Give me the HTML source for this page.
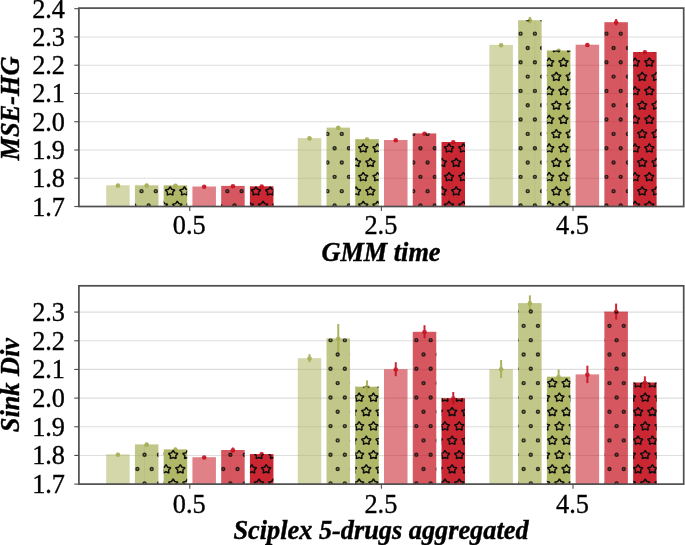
<!DOCTYPE html>
<html lang="en"><head><meta charset="utf-8"><title>Chart</title><style>html,body{margin:0;padding:0;background:#fff}</style></head><body>
<svg width="685" height="545" viewBox="0 0 685 545" style="display:block;font-family:'Liberation Serif','Times New Roman',serif">
<rect width="685" height="545" fill="#fff"/>
<g stroke="#dedede" stroke-width="1.1"><line x1="78.9" x2="683.7" y1="178.24" y2="178.24"/><line x1="78.9" x2="683.7" y1="149.99" y2="149.99"/><line x1="78.9" x2="683.7" y1="121.73" y2="121.73"/><line x1="78.9" x2="683.7" y1="93.47" y2="93.47"/><line x1="78.9" x2="683.7" y1="65.21" y2="65.21"/><line x1="78.9" x2="683.7" y1="36.96" y2="36.96"/></g>
<line x1="117.93" x2="117.93" y1="184.80" y2="185.80" stroke="#abb35e" stroke-width="2"/>
<circle cx="117.93" cy="185.60" r="2.3" fill="#abb35e"/>
<rect x="106.18" y="185.30" width="23.50" height="21.20" fill="#a7af55" fill-opacity="0.50"/>
<line x1="146.68" x2="146.68" y1="184.80" y2="185.80" stroke="#abb35e" stroke-width="2"/>
<circle cx="146.68" cy="185.60" r="2.3" fill="#abb35e"/>
<rect x="134.93" y="185.30" width="23.50" height="21.20" fill="#a7af55" fill-opacity="0.70"/>
<clipPath id="c1"><rect x="134.93" y="185.30" width="23.50" height="21.20"/></clipPath>
<g clip-path="url(#c1)" fill="#000" fill-opacity=".3" stroke="#151510" stroke-opacity=".85" stroke-width="1.4"><circle cx="120.04" cy="176.84" r="1.5"/><circle cx="134.34" cy="176.84" r="1.5"/><circle cx="148.65" cy="176.84" r="1.5"/><circle cx="162.95" cy="176.84" r="1.5"/><circle cx="177.26" cy="176.84" r="1.5"/><circle cx="112.89" cy="191.16" r="1.5"/><circle cx="127.19" cy="191.16" r="1.5"/><circle cx="141.50" cy="191.16" r="1.5"/><circle cx="155.80" cy="191.16" r="1.5"/><circle cx="170.11" cy="191.16" r="1.5"/><circle cx="120.04" cy="205.48" r="1.5"/><circle cx="134.34" cy="205.48" r="1.5"/><circle cx="148.65" cy="205.48" r="1.5"/><circle cx="162.95" cy="205.48" r="1.5"/><circle cx="177.26" cy="205.48" r="1.5"/><circle cx="112.89" cy="219.80" r="1.5"/><circle cx="127.19" cy="219.80" r="1.5"/><circle cx="141.50" cy="219.80" r="1.5"/><circle cx="155.80" cy="219.80" r="1.5"/><circle cx="170.11" cy="219.80" r="1.5"/></g>
<line x1="175.43" x2="175.43" y1="184.90" y2="185.90" stroke="#abb35e" stroke-width="2"/>
<circle cx="175.43" cy="185.70" r="2.3" fill="#abb35e"/>
<rect x="163.68" y="185.40" width="23.50" height="21.10" fill="#a7af55" fill-opacity="0.90"/>
<clipPath id="c2"><rect x="163.68" y="185.40" width="23.50" height="21.10"/></clipPath>
<g clip-path="url(#c2)" fill="none" stroke="#0d0d0d" stroke-linejoin="bevel" stroke-width="1.45"><polygon points="148.65,172.38 150.25,174.98 153.40,175.60 151.25,177.83 151.59,180.81 148.65,179.58 145.71,180.81 146.05,177.83 143.90,175.60 147.05,174.98"/><polygon points="162.95,172.38 164.56,174.98 167.71,175.60 165.55,177.83 165.89,180.81 162.95,179.58 160.02,180.81 160.36,177.83 158.20,175.60 161.35,174.98"/><polygon points="177.26,172.38 178.86,174.98 182.01,175.60 179.86,177.83 180.20,180.81 177.26,179.58 174.32,180.81 174.66,177.83 172.51,175.60 175.66,174.98"/><polygon points="191.56,172.38 193.17,174.98 196.32,175.60 194.16,177.83 194.50,180.81 191.56,179.58 188.63,180.81 188.97,177.83 186.81,175.60 189.96,174.98"/><polygon points="205.87,172.38 207.47,174.98 210.62,175.60 208.47,177.83 208.81,180.81 205.87,179.58 202.93,180.81 203.27,177.83 201.12,175.60 204.27,174.98"/><polygon points="141.50,186.70 143.10,189.30 146.25,189.92 144.09,192.15 144.43,195.13 141.50,193.90 138.56,195.13 138.90,192.15 136.75,189.92 139.89,189.30"/><polygon points="155.80,186.70 157.41,189.30 160.55,189.92 158.40,192.15 158.74,195.13 155.80,193.90 152.87,195.13 153.21,192.15 151.05,189.92 154.20,189.30"/><polygon points="170.11,186.70 171.71,189.30 174.86,189.92 172.70,192.15 173.04,195.13 170.11,193.90 167.17,195.13 167.51,192.15 165.36,189.92 168.50,189.30"/><polygon points="184.41,186.70 186.02,189.30 189.16,189.92 187.01,192.15 187.35,195.13 184.41,193.90 181.48,195.13 181.82,192.15 179.66,189.92 182.81,189.30"/><polygon points="198.72,186.70 200.32,189.30 203.47,189.92 201.31,192.15 201.65,195.13 198.72,193.90 195.78,195.13 196.12,192.15 193.97,189.92 197.11,189.30"/><polygon points="148.65,201.02 150.25,203.62 153.40,204.24 151.25,206.47 151.59,209.45 148.65,208.22 145.71,209.45 146.05,206.47 143.90,204.24 147.05,203.62"/><polygon points="162.95,201.02 164.56,203.62 167.71,204.24 165.55,206.47 165.89,209.45 162.95,208.22 160.02,209.45 160.36,206.47 158.20,204.24 161.35,203.62"/><polygon points="177.26,201.02 178.86,203.62 182.01,204.24 179.86,206.47 180.20,209.45 177.26,208.22 174.32,209.45 174.66,206.47 172.51,204.24 175.66,203.62"/><polygon points="191.56,201.02 193.17,203.62 196.32,204.24 194.16,206.47 194.50,209.45 191.56,208.22 188.63,209.45 188.97,206.47 186.81,204.24 189.96,203.62"/><polygon points="205.87,201.02 207.47,203.62 210.62,204.24 208.47,206.47 208.81,209.45 205.87,208.22 202.93,209.45 203.27,206.47 201.12,204.24 204.27,203.62"/><polygon points="141.50,215.34 143.10,217.94 146.25,218.56 144.09,220.79 144.43,223.77 141.50,222.54 138.56,223.77 138.90,220.79 136.75,218.56 139.89,217.94"/><polygon points="155.80,215.34 157.41,217.94 160.55,218.56 158.40,220.79 158.74,223.77 155.80,222.54 152.87,223.77 153.21,220.79 151.05,218.56 154.20,217.94"/><polygon points="170.11,215.34 171.71,217.94 174.86,218.56 172.70,220.79 173.04,223.77 170.11,222.54 167.17,223.77 167.51,220.79 165.36,218.56 168.50,217.94"/><polygon points="184.41,215.34 186.02,217.94 189.16,218.56 187.01,220.79 187.35,223.77 184.41,222.54 181.48,223.77 181.82,220.79 179.66,218.56 182.81,217.94"/><polygon points="198.72,215.34 200.32,217.94 203.47,218.56 201.31,220.79 201.65,223.77 198.72,222.54 195.78,223.77 196.12,220.79 193.97,218.56 197.11,217.94"/></g>
<line x1="204.18" x2="204.18" y1="186.00" y2="187.00" stroke="#cb2633" stroke-width="2"/>
<circle cx="204.18" cy="186.80" r="2.3" fill="#cb2633"/>
<rect x="192.43" y="186.50" width="23.50" height="20.00" fill="#c40f1c" fill-opacity="0.53"/>
<line x1="232.93" x2="232.93" y1="185.40" y2="186.40" stroke="#cb2633" stroke-width="2"/>
<circle cx="232.93" cy="186.20" r="2.3" fill="#cb2633"/>
<rect x="221.18" y="185.90" width="23.50" height="20.60" fill="#c40f1c" fill-opacity="0.70"/>
<clipPath id="c3"><rect x="221.18" y="185.90" width="23.50" height="20.60"/></clipPath>
<g clip-path="url(#c3)" fill="#000" fill-opacity=".3" stroke="#151510" stroke-opacity=".85" stroke-width="1.4"><circle cx="205.87" cy="176.84" r="1.5"/><circle cx="220.17" cy="176.84" r="1.5"/><circle cx="234.48" cy="176.84" r="1.5"/><circle cx="248.78" cy="176.84" r="1.5"/><circle cx="263.09" cy="176.84" r="1.5"/><circle cx="213.02" cy="191.16" r="1.5"/><circle cx="227.33" cy="191.16" r="1.5"/><circle cx="241.63" cy="191.16" r="1.5"/><circle cx="255.94" cy="191.16" r="1.5"/><circle cx="205.87" cy="205.48" r="1.5"/><circle cx="220.17" cy="205.48" r="1.5"/><circle cx="234.48" cy="205.48" r="1.5"/><circle cx="248.78" cy="205.48" r="1.5"/><circle cx="263.09" cy="205.48" r="1.5"/><circle cx="213.02" cy="219.80" r="1.5"/><circle cx="227.33" cy="219.80" r="1.5"/><circle cx="241.63" cy="219.80" r="1.5"/><circle cx="255.94" cy="219.80" r="1.5"/></g>
<line x1="261.68" x2="261.68" y1="185.80" y2="186.80" stroke="#cb2633" stroke-width="2"/>
<circle cx="261.68" cy="186.60" r="2.3" fill="#cb2633"/>
<rect x="249.93" y="186.30" width="23.50" height="20.20" fill="#c40f1c" fill-opacity="0.90"/>
<clipPath id="c4"><rect x="249.93" y="186.30" width="23.50" height="20.20"/></clipPath>
<g clip-path="url(#c4)" fill="none" stroke="#0d0d0d" stroke-linejoin="bevel" stroke-width="1.45"><polygon points="234.48,172.38 236.08,174.98 239.23,175.60 237.08,177.83 237.42,180.81 234.48,179.58 231.54,180.81 231.88,177.83 229.73,175.60 232.88,174.98"/><polygon points="248.78,172.38 250.39,174.98 253.54,175.60 251.38,177.83 251.72,180.81 248.78,179.58 245.85,180.81 246.19,177.83 244.03,175.60 247.18,174.98"/><polygon points="263.09,172.38 264.69,174.98 267.84,175.60 265.69,177.83 266.03,180.81 263.09,179.58 260.15,180.81 260.49,177.83 258.34,175.60 261.49,174.98"/><polygon points="277.40,172.38 279.00,174.98 282.15,175.60 279.99,177.83 280.33,180.81 277.40,179.58 274.46,180.81 274.80,177.83 272.64,175.60 275.79,174.98"/><polygon points="291.70,172.38 293.30,174.98 296.45,175.60 294.30,177.83 294.64,180.81 291.70,179.58 288.76,180.81 289.10,177.83 286.95,175.60 290.10,174.98"/><polygon points="241.63,186.70 243.24,189.30 246.38,189.92 244.23,192.15 244.57,195.13 241.63,193.90 238.70,195.13 239.04,192.15 236.88,189.92 240.03,189.30"/><polygon points="255.94,186.70 257.54,189.30 260.69,189.92 258.53,192.15 258.87,195.13 255.94,193.90 253.00,195.13 253.34,192.15 251.19,189.92 254.33,189.30"/><polygon points="270.24,186.70 271.85,189.30 274.99,189.92 272.84,192.15 273.18,195.13 270.24,193.90 267.31,195.13 267.65,192.15 265.49,189.92 268.64,189.30"/><polygon points="284.55,186.70 286.15,189.30 289.30,189.92 287.14,192.15 287.48,195.13 284.55,193.90 281.61,195.13 281.95,192.15 279.80,189.92 282.94,189.30"/><polygon points="234.48,201.02 236.08,203.62 239.23,204.24 237.08,206.47 237.42,209.45 234.48,208.22 231.54,209.45 231.88,206.47 229.73,204.24 232.88,203.62"/><polygon points="248.78,201.02 250.39,203.62 253.54,204.24 251.38,206.47 251.72,209.45 248.78,208.22 245.85,209.45 246.19,206.47 244.03,204.24 247.18,203.62"/><polygon points="263.09,201.02 264.69,203.62 267.84,204.24 265.69,206.47 266.03,209.45 263.09,208.22 260.15,209.45 260.49,206.47 258.34,204.24 261.49,203.62"/><polygon points="277.40,201.02 279.00,203.62 282.15,204.24 279.99,206.47 280.33,209.45 277.40,208.22 274.46,209.45 274.80,206.47 272.64,204.24 275.79,203.62"/><polygon points="291.70,201.02 293.30,203.62 296.45,204.24 294.30,206.47 294.64,209.45 291.70,208.22 288.76,209.45 289.10,206.47 286.95,204.24 290.10,203.62"/><polygon points="241.63,215.34 243.24,217.94 246.38,218.56 244.23,220.79 244.57,223.77 241.63,222.54 238.70,223.77 239.04,220.79 236.88,218.56 240.03,217.94"/><polygon points="255.94,215.34 257.54,217.94 260.69,218.56 258.53,220.79 258.87,223.77 255.94,222.54 253.00,223.77 253.34,220.79 251.19,218.56 254.33,217.94"/><polygon points="270.24,215.34 271.85,217.94 274.99,218.56 272.84,220.79 273.18,223.77 270.24,222.54 267.31,223.77 267.65,220.79 265.49,218.56 268.64,217.94"/><polygon points="284.55,215.34 286.15,217.94 289.30,218.56 287.14,220.79 287.48,223.77 284.55,222.54 281.61,223.77 281.95,220.79 279.80,218.56 282.94,217.94"/></g>
<line x1="309.52" x2="309.52" y1="137.30" y2="138.90" stroke="#abb35e" stroke-width="2"/>
<circle cx="309.52" cy="138.40" r="2.3" fill="#abb35e"/>
<rect x="297.77" y="138.10" width="23.50" height="68.40" fill="#a7af55" fill-opacity="0.50"/>
<line x1="338.27" x2="338.27" y1="126.60" y2="128.60" stroke="#abb35e" stroke-width="2"/>
<circle cx="338.27" cy="127.90" r="2.3" fill="#abb35e"/>
<rect x="326.52" y="127.60" width="23.50" height="78.90" fill="#a7af55" fill-opacity="0.70"/>
<clipPath id="c5"><rect x="326.52" y="127.60" width="23.50" height="78.90"/></clipPath>
<g clip-path="url(#c5)" fill="#000" fill-opacity=".3" stroke="#151510" stroke-opacity=".85" stroke-width="1.4"><circle cx="306.00" cy="119.56" r="1.5"/><circle cx="320.31" cy="119.56" r="1.5"/><circle cx="334.62" cy="119.56" r="1.5"/><circle cx="348.92" cy="119.56" r="1.5"/><circle cx="363.23" cy="119.56" r="1.5"/><circle cx="313.16" cy="133.88" r="1.5"/><circle cx="327.46" cy="133.88" r="1.5"/><circle cx="341.77" cy="133.88" r="1.5"/><circle cx="356.07" cy="133.88" r="1.5"/><circle cx="370.38" cy="133.88" r="1.5"/><circle cx="306.00" cy="148.20" r="1.5"/><circle cx="320.31" cy="148.20" r="1.5"/><circle cx="334.62" cy="148.20" r="1.5"/><circle cx="348.92" cy="148.20" r="1.5"/><circle cx="363.23" cy="148.20" r="1.5"/><circle cx="313.16" cy="162.52" r="1.5"/><circle cx="327.46" cy="162.52" r="1.5"/><circle cx="341.77" cy="162.52" r="1.5"/><circle cx="356.07" cy="162.52" r="1.5"/><circle cx="370.38" cy="162.52" r="1.5"/><circle cx="306.00" cy="176.84" r="1.5"/><circle cx="320.31" cy="176.84" r="1.5"/><circle cx="334.62" cy="176.84" r="1.5"/><circle cx="348.92" cy="176.84" r="1.5"/><circle cx="363.23" cy="176.84" r="1.5"/><circle cx="313.16" cy="191.16" r="1.5"/><circle cx="327.46" cy="191.16" r="1.5"/><circle cx="341.77" cy="191.16" r="1.5"/><circle cx="356.07" cy="191.16" r="1.5"/><circle cx="370.38" cy="191.16" r="1.5"/><circle cx="306.00" cy="205.48" r="1.5"/><circle cx="320.31" cy="205.48" r="1.5"/><circle cx="334.62" cy="205.48" r="1.5"/><circle cx="348.92" cy="205.48" r="1.5"/><circle cx="363.23" cy="205.48" r="1.5"/><circle cx="313.16" cy="219.80" r="1.5"/><circle cx="327.46" cy="219.80" r="1.5"/><circle cx="341.77" cy="219.80" r="1.5"/><circle cx="356.07" cy="219.80" r="1.5"/><circle cx="370.38" cy="219.80" r="1.5"/></g>
<line x1="367.02" x2="367.02" y1="138.40" y2="140.00" stroke="#abb35e" stroke-width="2"/>
<circle cx="367.02" cy="139.50" r="2.3" fill="#abb35e"/>
<rect x="355.27" y="139.20" width="23.50" height="67.30" fill="#a7af55" fill-opacity="0.90"/>
<clipPath id="c6"><rect x="355.27" y="139.20" width="23.50" height="67.30"/></clipPath>
<g clip-path="url(#c6)" fill="none" stroke="#0d0d0d" stroke-linejoin="bevel" stroke-width="1.45"><polygon points="334.62,115.10 336.22,117.70 339.37,118.32 337.21,120.55 337.55,123.53 334.62,122.30 331.68,123.53 332.02,120.55 329.86,118.32 333.01,117.70"/><polygon points="348.92,115.10 350.52,117.70 353.67,118.32 351.52,120.55 351.86,123.53 348.92,122.30 345.98,123.53 346.32,120.55 344.17,118.32 347.32,117.70"/><polygon points="363.23,115.10 364.83,117.70 367.98,118.32 365.82,120.55 366.16,123.53 363.23,122.30 360.29,123.53 360.63,120.55 358.47,118.32 361.62,117.70"/><polygon points="377.53,115.10 379.13,117.70 382.28,118.32 380.13,120.55 380.47,123.53 377.53,122.30 374.59,123.53 374.93,120.55 372.78,118.32 375.93,117.70"/><polygon points="391.84,115.10 393.44,117.70 396.59,118.32 394.43,120.55 394.77,123.53 391.84,122.30 388.90,123.53 389.24,120.55 387.08,118.32 390.23,117.70"/><polygon points="341.77,129.42 343.37,132.02 346.52,132.64 344.36,134.87 344.70,137.85 341.77,136.62 338.83,137.85 339.17,134.87 337.02,132.64 340.16,132.02"/><polygon points="356.07,129.42 357.68,132.02 360.82,132.64 358.67,134.87 359.01,137.85 356.07,136.62 353.14,137.85 353.48,134.87 351.32,132.64 354.47,132.02"/><polygon points="370.38,129.42 371.98,132.02 375.13,132.64 372.97,134.87 373.31,137.85 370.38,136.62 367.44,137.85 367.78,134.87 365.63,132.64 368.77,132.02"/><polygon points="384.68,129.42 386.29,132.02 389.43,132.64 387.28,134.87 387.62,137.85 384.68,136.62 381.75,137.85 382.09,134.87 379.93,132.64 383.08,132.02"/><polygon points="398.99,129.42 400.59,132.02 403.74,132.64 401.58,134.87 401.92,137.85 398.99,136.62 396.05,137.85 396.39,134.87 394.24,132.64 397.38,132.02"/><polygon points="334.62,143.74 336.22,146.34 339.37,146.96 337.21,149.19 337.55,152.17 334.62,150.94 331.68,152.17 332.02,149.19 329.86,146.96 333.01,146.34"/><polygon points="348.92,143.74 350.52,146.34 353.67,146.96 351.52,149.19 351.86,152.17 348.92,150.94 345.98,152.17 346.32,149.19 344.17,146.96 347.32,146.34"/><polygon points="363.23,143.74 364.83,146.34 367.98,146.96 365.82,149.19 366.16,152.17 363.23,150.94 360.29,152.17 360.63,149.19 358.47,146.96 361.62,146.34"/><polygon points="377.53,143.74 379.13,146.34 382.28,146.96 380.13,149.19 380.47,152.17 377.53,150.94 374.59,152.17 374.93,149.19 372.78,146.96 375.93,146.34"/><polygon points="391.84,143.74 393.44,146.34 396.59,146.96 394.43,149.19 394.77,152.17 391.84,150.94 388.90,152.17 389.24,149.19 387.08,146.96 390.23,146.34"/><polygon points="341.77,158.06 343.37,160.66 346.52,161.28 344.36,163.51 344.70,166.49 341.77,165.26 338.83,166.49 339.17,163.51 337.02,161.28 340.16,160.66"/><polygon points="356.07,158.06 357.68,160.66 360.82,161.28 358.67,163.51 359.01,166.49 356.07,165.26 353.14,166.49 353.48,163.51 351.32,161.28 354.47,160.66"/><polygon points="370.38,158.06 371.98,160.66 375.13,161.28 372.97,163.51 373.31,166.49 370.38,165.26 367.44,166.49 367.78,163.51 365.63,161.28 368.77,160.66"/><polygon points="384.68,158.06 386.29,160.66 389.43,161.28 387.28,163.51 387.62,166.49 384.68,165.26 381.75,166.49 382.09,163.51 379.93,161.28 383.08,160.66"/><polygon points="398.99,158.06 400.59,160.66 403.74,161.28 401.58,163.51 401.92,166.49 398.99,165.26 396.05,166.49 396.39,163.51 394.24,161.28 397.38,160.66"/><polygon points="334.62,172.38 336.22,174.98 339.37,175.60 337.21,177.83 337.55,180.81 334.62,179.58 331.68,180.81 332.02,177.83 329.86,175.60 333.01,174.98"/><polygon points="348.92,172.38 350.52,174.98 353.67,175.60 351.52,177.83 351.86,180.81 348.92,179.58 345.98,180.81 346.32,177.83 344.17,175.60 347.32,174.98"/><polygon points="363.23,172.38 364.83,174.98 367.98,175.60 365.82,177.83 366.16,180.81 363.23,179.58 360.29,180.81 360.63,177.83 358.47,175.60 361.62,174.98"/><polygon points="377.53,172.38 379.13,174.98 382.28,175.60 380.13,177.83 380.47,180.81 377.53,179.58 374.59,180.81 374.93,177.83 372.78,175.60 375.93,174.98"/><polygon points="391.84,172.38 393.44,174.98 396.59,175.60 394.43,177.83 394.77,180.81 391.84,179.58 388.90,180.81 389.24,177.83 387.08,175.60 390.23,174.98"/><polygon points="341.77,186.70 343.37,189.30 346.52,189.92 344.36,192.15 344.70,195.13 341.77,193.90 338.83,195.13 339.17,192.15 337.02,189.92 340.16,189.30"/><polygon points="356.07,186.70 357.68,189.30 360.82,189.92 358.67,192.15 359.01,195.13 356.07,193.90 353.14,195.13 353.48,192.15 351.32,189.92 354.47,189.30"/><polygon points="370.38,186.70 371.98,189.30 375.13,189.92 372.97,192.15 373.31,195.13 370.38,193.90 367.44,195.13 367.78,192.15 365.63,189.92 368.77,189.30"/><polygon points="384.68,186.70 386.29,189.30 389.43,189.92 387.28,192.15 387.62,195.13 384.68,193.90 381.75,195.13 382.09,192.15 379.93,189.92 383.08,189.30"/><polygon points="398.99,186.70 400.59,189.30 403.74,189.92 401.58,192.15 401.92,195.13 398.99,193.90 396.05,195.13 396.39,192.15 394.24,189.92 397.38,189.30"/><polygon points="334.62,201.02 336.22,203.62 339.37,204.24 337.21,206.47 337.55,209.45 334.62,208.22 331.68,209.45 332.02,206.47 329.86,204.24 333.01,203.62"/><polygon points="348.92,201.02 350.52,203.62 353.67,204.24 351.52,206.47 351.86,209.45 348.92,208.22 345.98,209.45 346.32,206.47 344.17,204.24 347.32,203.62"/><polygon points="363.23,201.02 364.83,203.62 367.98,204.24 365.82,206.47 366.16,209.45 363.23,208.22 360.29,209.45 360.63,206.47 358.47,204.24 361.62,203.62"/><polygon points="377.53,201.02 379.13,203.62 382.28,204.24 380.13,206.47 380.47,209.45 377.53,208.22 374.59,209.45 374.93,206.47 372.78,204.24 375.93,203.62"/><polygon points="391.84,201.02 393.44,203.62 396.59,204.24 394.43,206.47 394.77,209.45 391.84,208.22 388.90,209.45 389.24,206.47 387.08,204.24 390.23,203.62"/><polygon points="341.77,215.34 343.37,217.94 346.52,218.56 344.36,220.79 344.70,223.77 341.77,222.54 338.83,223.77 339.17,220.79 337.02,218.56 340.16,217.94"/><polygon points="356.07,215.34 357.68,217.94 360.82,218.56 358.67,220.79 359.01,223.77 356.07,222.54 353.14,223.77 353.48,220.79 351.32,218.56 354.47,217.94"/><polygon points="370.38,215.34 371.98,217.94 375.13,218.56 372.97,220.79 373.31,223.77 370.38,222.54 367.44,223.77 367.78,220.79 365.63,218.56 368.77,217.94"/><polygon points="384.68,215.34 386.29,217.94 389.43,218.56 387.28,220.79 387.62,223.77 384.68,222.54 381.75,223.77 382.09,220.79 379.93,218.56 383.08,217.94"/><polygon points="398.99,215.34 400.59,217.94 403.74,218.56 401.58,220.79 401.92,223.77 398.99,222.54 396.05,223.77 396.39,220.79 394.24,218.56 397.38,217.94"/></g>
<line x1="363.22" x2="363.22" y1="139.20" y2="206.50" stroke="#000" stroke-opacity="0.05" stroke-width="0.7"/>
<line x1="395.77" x2="395.77" y1="139.20" y2="140.80" stroke="#cb2633" stroke-width="2"/>
<circle cx="395.77" cy="140.30" r="2.3" fill="#cb2633"/>
<rect x="384.02" y="140.00" width="23.50" height="66.50" fill="#c40f1c" fill-opacity="0.53"/>
<line x1="424.52" x2="424.52" y1="132.40" y2="134.40" stroke="#cb2633" stroke-width="2"/>
<circle cx="424.52" cy="133.70" r="2.3" fill="#cb2633"/>
<rect x="412.77" y="133.40" width="23.50" height="73.10" fill="#c40f1c" fill-opacity="0.70"/>
<clipPath id="c7"><rect x="412.77" y="133.40" width="23.50" height="73.10"/></clipPath>
<g clip-path="url(#c7)" fill="#000" fill-opacity=".3" stroke="#151510" stroke-opacity=".85" stroke-width="1.4"><circle cx="391.84" cy="119.56" r="1.5"/><circle cx="406.14" cy="119.56" r="1.5"/><circle cx="420.44" cy="119.56" r="1.5"/><circle cx="434.75" cy="119.56" r="1.5"/><circle cx="449.06" cy="119.56" r="1.5"/><circle cx="398.99" cy="133.88" r="1.5"/><circle cx="413.29" cy="133.88" r="1.5"/><circle cx="427.60" cy="133.88" r="1.5"/><circle cx="441.90" cy="133.88" r="1.5"/><circle cx="456.21" cy="133.88" r="1.5"/><circle cx="391.84" cy="148.20" r="1.5"/><circle cx="406.14" cy="148.20" r="1.5"/><circle cx="420.44" cy="148.20" r="1.5"/><circle cx="434.75" cy="148.20" r="1.5"/><circle cx="449.06" cy="148.20" r="1.5"/><circle cx="398.99" cy="162.52" r="1.5"/><circle cx="413.29" cy="162.52" r="1.5"/><circle cx="427.60" cy="162.52" r="1.5"/><circle cx="441.90" cy="162.52" r="1.5"/><circle cx="456.21" cy="162.52" r="1.5"/><circle cx="391.84" cy="176.84" r="1.5"/><circle cx="406.14" cy="176.84" r="1.5"/><circle cx="420.44" cy="176.84" r="1.5"/><circle cx="434.75" cy="176.84" r="1.5"/><circle cx="449.06" cy="176.84" r="1.5"/><circle cx="398.99" cy="191.16" r="1.5"/><circle cx="413.29" cy="191.16" r="1.5"/><circle cx="427.60" cy="191.16" r="1.5"/><circle cx="441.90" cy="191.16" r="1.5"/><circle cx="456.21" cy="191.16" r="1.5"/><circle cx="391.84" cy="205.48" r="1.5"/><circle cx="406.14" cy="205.48" r="1.5"/><circle cx="420.44" cy="205.48" r="1.5"/><circle cx="434.75" cy="205.48" r="1.5"/><circle cx="449.06" cy="205.48" r="1.5"/><circle cx="398.99" cy="219.80" r="1.5"/><circle cx="413.29" cy="219.80" r="1.5"/><circle cx="427.60" cy="219.80" r="1.5"/><circle cx="441.90" cy="219.80" r="1.5"/><circle cx="456.21" cy="219.80" r="1.5"/></g>
<line x1="453.27" x2="453.27" y1="141.20" y2="142.80" stroke="#cb2633" stroke-width="2"/>
<circle cx="453.27" cy="142.30" r="2.3" fill="#cb2633"/>
<rect x="441.52" y="142.00" width="23.50" height="64.50" fill="#c40f1c" fill-opacity="0.90"/>
<clipPath id="c8"><rect x="441.52" y="142.00" width="23.50" height="64.50"/></clipPath>
<g clip-path="url(#c8)" fill="none" stroke="#0d0d0d" stroke-linejoin="bevel" stroke-width="1.45"><polygon points="427.60,129.42 429.20,132.02 432.35,132.64 430.19,134.87 430.53,137.85 427.60,136.62 424.66,137.85 425.00,134.87 422.85,132.64 425.99,132.02"/><polygon points="441.90,129.42 443.51,132.02 446.65,132.64 444.50,134.87 444.84,137.85 441.90,136.62 438.97,137.85 439.31,134.87 437.15,132.64 440.30,132.02"/><polygon points="456.21,129.42 457.81,132.02 460.96,132.64 458.80,134.87 459.14,137.85 456.21,136.62 453.27,137.85 453.61,134.87 451.46,132.64 454.60,132.02"/><polygon points="470.51,129.42 472.12,132.02 475.26,132.64 473.11,134.87 473.45,137.85 470.51,136.62 467.58,137.85 467.92,134.87 465.76,132.64 468.91,132.02"/><polygon points="484.82,129.42 486.42,132.02 489.57,132.64 487.41,134.87 487.75,137.85 484.82,136.62 481.88,137.85 482.22,134.87 480.07,132.64 483.21,132.02"/><polygon points="420.44,143.74 422.05,146.34 425.20,146.96 423.04,149.19 423.38,152.17 420.44,150.94 417.51,152.17 417.85,149.19 415.69,146.96 418.84,146.34"/><polygon points="434.75,143.74 436.35,146.34 439.50,146.96 437.35,149.19 437.69,152.17 434.75,150.94 431.81,152.17 432.15,149.19 430.00,146.96 433.15,146.34"/><polygon points="449.06,143.74 450.66,146.34 453.81,146.96 451.65,149.19 451.99,152.17 449.06,150.94 446.12,152.17 446.46,149.19 444.30,146.96 447.45,146.34"/><polygon points="463.36,143.74 464.96,146.34 468.11,146.96 465.96,149.19 466.30,152.17 463.36,150.94 460.42,152.17 460.76,149.19 458.61,146.96 461.76,146.34"/><polygon points="477.67,143.74 479.27,146.34 482.42,146.96 480.26,149.19 480.60,152.17 477.67,150.94 474.73,152.17 475.07,149.19 472.91,146.96 476.06,146.34"/><polygon points="427.60,158.06 429.20,160.66 432.35,161.28 430.19,163.51 430.53,166.49 427.60,165.26 424.66,166.49 425.00,163.51 422.85,161.28 425.99,160.66"/><polygon points="441.90,158.06 443.51,160.66 446.65,161.28 444.50,163.51 444.84,166.49 441.90,165.26 438.97,166.49 439.31,163.51 437.15,161.28 440.30,160.66"/><polygon points="456.21,158.06 457.81,160.66 460.96,161.28 458.80,163.51 459.14,166.49 456.21,165.26 453.27,166.49 453.61,163.51 451.46,161.28 454.60,160.66"/><polygon points="470.51,158.06 472.12,160.66 475.26,161.28 473.11,163.51 473.45,166.49 470.51,165.26 467.58,166.49 467.92,163.51 465.76,161.28 468.91,160.66"/><polygon points="484.82,158.06 486.42,160.66 489.57,161.28 487.41,163.51 487.75,166.49 484.82,165.26 481.88,166.49 482.22,163.51 480.07,161.28 483.21,160.66"/><polygon points="420.44,172.38 422.05,174.98 425.20,175.60 423.04,177.83 423.38,180.81 420.44,179.58 417.51,180.81 417.85,177.83 415.69,175.60 418.84,174.98"/><polygon points="434.75,172.38 436.35,174.98 439.50,175.60 437.35,177.83 437.69,180.81 434.75,179.58 431.81,180.81 432.15,177.83 430.00,175.60 433.15,174.98"/><polygon points="449.06,172.38 450.66,174.98 453.81,175.60 451.65,177.83 451.99,180.81 449.06,179.58 446.12,180.81 446.46,177.83 444.30,175.60 447.45,174.98"/><polygon points="463.36,172.38 464.96,174.98 468.11,175.60 465.96,177.83 466.30,180.81 463.36,179.58 460.42,180.81 460.76,177.83 458.61,175.60 461.76,174.98"/><polygon points="477.67,172.38 479.27,174.98 482.42,175.60 480.26,177.83 480.60,180.81 477.67,179.58 474.73,180.81 475.07,177.83 472.91,175.60 476.06,174.98"/><polygon points="427.60,186.70 429.20,189.30 432.35,189.92 430.19,192.15 430.53,195.13 427.60,193.90 424.66,195.13 425.00,192.15 422.85,189.92 425.99,189.30"/><polygon points="441.90,186.70 443.51,189.30 446.65,189.92 444.50,192.15 444.84,195.13 441.90,193.90 438.97,195.13 439.31,192.15 437.15,189.92 440.30,189.30"/><polygon points="456.21,186.70 457.81,189.30 460.96,189.92 458.80,192.15 459.14,195.13 456.21,193.90 453.27,195.13 453.61,192.15 451.46,189.92 454.60,189.30"/><polygon points="470.51,186.70 472.12,189.30 475.26,189.92 473.11,192.15 473.45,195.13 470.51,193.90 467.58,195.13 467.92,192.15 465.76,189.92 468.91,189.30"/><polygon points="484.82,186.70 486.42,189.30 489.57,189.92 487.41,192.15 487.75,195.13 484.82,193.90 481.88,195.13 482.22,192.15 480.07,189.92 483.21,189.30"/><polygon points="420.44,201.02 422.05,203.62 425.20,204.24 423.04,206.47 423.38,209.45 420.44,208.22 417.51,209.45 417.85,206.47 415.69,204.24 418.84,203.62"/><polygon points="434.75,201.02 436.35,203.62 439.50,204.24 437.35,206.47 437.69,209.45 434.75,208.22 431.81,209.45 432.15,206.47 430.00,204.24 433.15,203.62"/><polygon points="449.06,201.02 450.66,203.62 453.81,204.24 451.65,206.47 451.99,209.45 449.06,208.22 446.12,209.45 446.46,206.47 444.30,204.24 447.45,203.62"/><polygon points="463.36,201.02 464.96,203.62 468.11,204.24 465.96,206.47 466.30,209.45 463.36,208.22 460.42,209.45 460.76,206.47 458.61,204.24 461.76,203.62"/><polygon points="477.67,201.02 479.27,203.62 482.42,204.24 480.26,206.47 480.60,209.45 477.67,208.22 474.73,209.45 475.07,206.47 472.91,204.24 476.06,203.62"/><polygon points="427.60,215.34 429.20,217.94 432.35,218.56 430.19,220.79 430.53,223.77 427.60,222.54 424.66,223.77 425.00,220.79 422.85,218.56 425.99,217.94"/><polygon points="441.90,215.34 443.51,217.94 446.65,218.56 444.50,220.79 444.84,223.77 441.90,222.54 438.97,223.77 439.31,220.79 437.15,218.56 440.30,217.94"/><polygon points="456.21,215.34 457.81,217.94 460.96,218.56 458.80,220.79 459.14,223.77 456.21,222.54 453.27,223.77 453.61,220.79 451.46,218.56 454.60,217.94"/><polygon points="470.51,215.34 472.12,217.94 475.26,218.56 473.11,220.79 473.45,223.77 470.51,222.54 467.58,223.77 467.92,220.79 465.76,218.56 468.91,217.94"/><polygon points="484.82,215.34 486.42,217.94 489.57,218.56 487.41,220.79 487.75,223.77 484.82,222.54 481.88,223.77 482.22,220.79 480.07,218.56 483.21,217.94"/></g>
<line x1="449.05" x2="449.05" y1="142.00" y2="206.50" stroke="#000" stroke-opacity="0.05" stroke-width="0.7"/>
<line x1="501.12" x2="501.12" y1="43.90" y2="45.90" stroke="#abb35e" stroke-width="2"/>
<circle cx="501.12" cy="45.20" r="2.3" fill="#abb35e"/>
<rect x="489.38" y="44.90" width="23.50" height="161.60" fill="#a7af55" fill-opacity="0.50"/>
<line x1="529.88" x2="529.88" y1="17.00" y2="23.40" stroke="#abb35e" stroke-width="2"/>
<circle cx="529.88" cy="20.50" r="2.3" fill="#abb35e"/>
<rect x="518.12" y="20.20" width="23.50" height="186.30" fill="#a7af55" fill-opacity="0.70"/>
<clipPath id="c9"><rect x="518.12" y="20.20" width="23.50" height="186.30"/></clipPath>
<g clip-path="url(#c9)" fill="#000" fill-opacity=".3" stroke="#151510" stroke-opacity=".85" stroke-width="1.4"><circle cx="506.28" cy="5.00" r="1.5"/><circle cx="520.58" cy="5.00" r="1.5"/><circle cx="534.88" cy="5.00" r="1.5"/><circle cx="549.19" cy="5.00" r="1.5"/><circle cx="563.50" cy="5.00" r="1.5"/><circle cx="499.12" cy="19.32" r="1.5"/><circle cx="513.43" cy="19.32" r="1.5"/><circle cx="527.73" cy="19.32" r="1.5"/><circle cx="542.04" cy="19.32" r="1.5"/><circle cx="556.34" cy="19.32" r="1.5"/><circle cx="506.28" cy="33.64" r="1.5"/><circle cx="520.58" cy="33.64" r="1.5"/><circle cx="534.88" cy="33.64" r="1.5"/><circle cx="549.19" cy="33.64" r="1.5"/><circle cx="563.50" cy="33.64" r="1.5"/><circle cx="499.12" cy="47.96" r="1.5"/><circle cx="513.43" cy="47.96" r="1.5"/><circle cx="527.73" cy="47.96" r="1.5"/><circle cx="542.04" cy="47.96" r="1.5"/><circle cx="556.34" cy="47.96" r="1.5"/><circle cx="506.28" cy="62.28" r="1.5"/><circle cx="520.58" cy="62.28" r="1.5"/><circle cx="534.88" cy="62.28" r="1.5"/><circle cx="549.19" cy="62.28" r="1.5"/><circle cx="563.50" cy="62.28" r="1.5"/><circle cx="499.12" cy="76.60" r="1.5"/><circle cx="513.43" cy="76.60" r="1.5"/><circle cx="527.73" cy="76.60" r="1.5"/><circle cx="542.04" cy="76.60" r="1.5"/><circle cx="556.34" cy="76.60" r="1.5"/><circle cx="506.28" cy="90.92" r="1.5"/><circle cx="520.58" cy="90.92" r="1.5"/><circle cx="534.88" cy="90.92" r="1.5"/><circle cx="549.19" cy="90.92" r="1.5"/><circle cx="563.50" cy="90.92" r="1.5"/><circle cx="499.12" cy="105.24" r="1.5"/><circle cx="513.43" cy="105.24" r="1.5"/><circle cx="527.73" cy="105.24" r="1.5"/><circle cx="542.04" cy="105.24" r="1.5"/><circle cx="556.34" cy="105.24" r="1.5"/><circle cx="506.28" cy="119.56" r="1.5"/><circle cx="520.58" cy="119.56" r="1.5"/><circle cx="534.88" cy="119.56" r="1.5"/><circle cx="549.19" cy="119.56" r="1.5"/><circle cx="563.50" cy="119.56" r="1.5"/><circle cx="499.12" cy="133.88" r="1.5"/><circle cx="513.43" cy="133.88" r="1.5"/><circle cx="527.73" cy="133.88" r="1.5"/><circle cx="542.04" cy="133.88" r="1.5"/><circle cx="556.34" cy="133.88" r="1.5"/><circle cx="506.28" cy="148.20" r="1.5"/><circle cx="520.58" cy="148.20" r="1.5"/><circle cx="534.88" cy="148.20" r="1.5"/><circle cx="549.19" cy="148.20" r="1.5"/><circle cx="563.50" cy="148.20" r="1.5"/><circle cx="499.12" cy="162.52" r="1.5"/><circle cx="513.43" cy="162.52" r="1.5"/><circle cx="527.73" cy="162.52" r="1.5"/><circle cx="542.04" cy="162.52" r="1.5"/><circle cx="556.34" cy="162.52" r="1.5"/><circle cx="506.28" cy="176.84" r="1.5"/><circle cx="520.58" cy="176.84" r="1.5"/><circle cx="534.88" cy="176.84" r="1.5"/><circle cx="549.19" cy="176.84" r="1.5"/><circle cx="563.50" cy="176.84" r="1.5"/><circle cx="499.12" cy="191.16" r="1.5"/><circle cx="513.43" cy="191.16" r="1.5"/><circle cx="527.73" cy="191.16" r="1.5"/><circle cx="542.04" cy="191.16" r="1.5"/><circle cx="556.34" cy="191.16" r="1.5"/><circle cx="506.28" cy="205.48" r="1.5"/><circle cx="520.58" cy="205.48" r="1.5"/><circle cx="534.88" cy="205.48" r="1.5"/><circle cx="549.19" cy="205.48" r="1.5"/><circle cx="563.50" cy="205.48" r="1.5"/><circle cx="499.12" cy="219.80" r="1.5"/><circle cx="513.43" cy="219.80" r="1.5"/><circle cx="527.73" cy="219.80" r="1.5"/><circle cx="542.04" cy="219.80" r="1.5"/><circle cx="556.34" cy="219.80" r="1.5"/></g>
<line x1="534.88" x2="534.88" y1="20.20" y2="206.50" stroke="#000" stroke-opacity="0.05" stroke-width="0.7"/>
<line x1="558.62" x2="558.62" y1="49.50" y2="51.50" stroke="#abb35e" stroke-width="2"/>
<circle cx="558.62" cy="50.80" r="2.3" fill="#abb35e"/>
<rect x="546.88" y="50.50" width="23.50" height="156.00" fill="#a7af55" fill-opacity="0.90"/>
<clipPath id="c10"><rect x="546.88" y="50.50" width="23.50" height="156.00"/></clipPath>
<g clip-path="url(#c10)" fill="none" stroke="#0d0d0d" stroke-linejoin="bevel" stroke-width="1.45"><polygon points="534.88,29.18 536.49,31.78 539.64,32.40 537.48,34.63 537.82,37.61 534.88,36.38 531.95,37.61 532.29,34.63 530.13,32.40 533.28,31.78"/><polygon points="549.19,29.18 550.79,31.78 553.94,32.40 551.79,34.63 552.13,37.61 549.19,36.38 546.25,37.61 546.59,34.63 544.44,32.40 547.59,31.78"/><polygon points="563.50,29.18 565.10,31.78 568.25,32.40 566.09,34.63 566.43,37.61 563.50,36.38 560.56,37.61 560.90,34.63 558.74,32.40 561.89,31.78"/><polygon points="577.80,29.18 579.40,31.78 582.55,32.40 580.40,34.63 580.74,37.61 577.80,36.38 574.86,37.61 575.20,34.63 573.05,32.40 576.20,31.78"/><polygon points="592.11,29.18 593.71,31.78 596.86,32.40 594.70,34.63 595.04,37.61 592.11,36.38 589.17,37.61 589.51,34.63 587.35,32.40 590.50,31.78"/><polygon points="527.73,43.50 529.34,46.10 532.48,46.72 530.33,48.95 530.67,51.93 527.73,50.70 524.80,51.93 525.14,48.95 522.98,46.72 526.13,46.10"/><polygon points="542.04,43.50 543.64,46.10 546.79,46.72 544.63,48.95 544.97,51.93 542.04,50.70 539.10,51.93 539.44,48.95 537.29,46.72 540.43,46.10"/><polygon points="556.34,43.50 557.95,46.10 561.09,46.72 558.94,48.95 559.28,51.93 556.34,50.70 553.41,51.93 553.75,48.95 551.59,46.72 554.74,46.10"/><polygon points="570.65,43.50 572.25,46.10 575.40,46.72 573.24,48.95 573.58,51.93 570.65,50.70 567.71,51.93 568.05,48.95 565.90,46.72 569.04,46.10"/><polygon points="584.95,43.50 586.56,46.10 589.70,46.72 587.55,48.95 587.89,51.93 584.95,50.70 582.02,51.93 582.36,48.95 580.20,46.72 583.35,46.10"/><polygon points="534.88,57.82 536.49,60.42 539.64,61.04 537.48,63.27 537.82,66.25 534.88,65.02 531.95,66.25 532.29,63.27 530.13,61.04 533.28,60.42"/><polygon points="549.19,57.82 550.79,60.42 553.94,61.04 551.79,63.27 552.13,66.25 549.19,65.02 546.25,66.25 546.59,63.27 544.44,61.04 547.59,60.42"/><polygon points="563.50,57.82 565.10,60.42 568.25,61.04 566.09,63.27 566.43,66.25 563.50,65.02 560.56,66.25 560.90,63.27 558.74,61.04 561.89,60.42"/><polygon points="577.80,57.82 579.40,60.42 582.55,61.04 580.40,63.27 580.74,66.25 577.80,65.02 574.86,66.25 575.20,63.27 573.05,61.04 576.20,60.42"/><polygon points="592.11,57.82 593.71,60.42 596.86,61.04 594.70,63.27 595.04,66.25 592.11,65.02 589.17,66.25 589.51,63.27 587.35,61.04 590.50,60.42"/><polygon points="527.73,72.14 529.34,74.74 532.48,75.36 530.33,77.59 530.67,80.57 527.73,79.34 524.80,80.57 525.14,77.59 522.98,75.36 526.13,74.74"/><polygon points="542.04,72.14 543.64,74.74 546.79,75.36 544.63,77.59 544.97,80.57 542.04,79.34 539.10,80.57 539.44,77.59 537.29,75.36 540.43,74.74"/><polygon points="556.34,72.14 557.95,74.74 561.09,75.36 558.94,77.59 559.28,80.57 556.34,79.34 553.41,80.57 553.75,77.59 551.59,75.36 554.74,74.74"/><polygon points="570.65,72.14 572.25,74.74 575.40,75.36 573.24,77.59 573.58,80.57 570.65,79.34 567.71,80.57 568.05,77.59 565.90,75.36 569.04,74.74"/><polygon points="584.95,72.14 586.56,74.74 589.70,75.36 587.55,77.59 587.89,80.57 584.95,79.34 582.02,80.57 582.36,77.59 580.20,75.36 583.35,74.74"/><polygon points="534.88,86.46 536.49,89.06 539.64,89.68 537.48,91.91 537.82,94.89 534.88,93.66 531.95,94.89 532.29,91.91 530.13,89.68 533.28,89.06"/><polygon points="549.19,86.46 550.79,89.06 553.94,89.68 551.79,91.91 552.13,94.89 549.19,93.66 546.25,94.89 546.59,91.91 544.44,89.68 547.59,89.06"/><polygon points="563.50,86.46 565.10,89.06 568.25,89.68 566.09,91.91 566.43,94.89 563.50,93.66 560.56,94.89 560.90,91.91 558.74,89.68 561.89,89.06"/><polygon points="577.80,86.46 579.40,89.06 582.55,89.68 580.40,91.91 580.74,94.89 577.80,93.66 574.86,94.89 575.20,91.91 573.05,89.68 576.20,89.06"/><polygon points="592.11,86.46 593.71,89.06 596.86,89.68 594.70,91.91 595.04,94.89 592.11,93.66 589.17,94.89 589.51,91.91 587.35,89.68 590.50,89.06"/><polygon points="527.73,100.78 529.34,103.38 532.48,104.00 530.33,106.23 530.67,109.21 527.73,107.98 524.80,109.21 525.14,106.23 522.98,104.00 526.13,103.38"/><polygon points="542.04,100.78 543.64,103.38 546.79,104.00 544.63,106.23 544.97,109.21 542.04,107.98 539.10,109.21 539.44,106.23 537.29,104.00 540.43,103.38"/><polygon points="556.34,100.78 557.95,103.38 561.09,104.00 558.94,106.23 559.28,109.21 556.34,107.98 553.41,109.21 553.75,106.23 551.59,104.00 554.74,103.38"/><polygon points="570.65,100.78 572.25,103.38 575.40,104.00 573.24,106.23 573.58,109.21 570.65,107.98 567.71,109.21 568.05,106.23 565.90,104.00 569.04,103.38"/><polygon points="584.95,100.78 586.56,103.38 589.70,104.00 587.55,106.23 587.89,109.21 584.95,107.98 582.02,109.21 582.36,106.23 580.20,104.00 583.35,103.38"/><polygon points="534.88,115.10 536.49,117.70 539.64,118.32 537.48,120.55 537.82,123.53 534.88,122.30 531.95,123.53 532.29,120.55 530.13,118.32 533.28,117.70"/><polygon points="549.19,115.10 550.79,117.70 553.94,118.32 551.79,120.55 552.13,123.53 549.19,122.30 546.25,123.53 546.59,120.55 544.44,118.32 547.59,117.70"/><polygon points="563.50,115.10 565.10,117.70 568.25,118.32 566.09,120.55 566.43,123.53 563.50,122.30 560.56,123.53 560.90,120.55 558.74,118.32 561.89,117.70"/><polygon points="577.80,115.10 579.40,117.70 582.55,118.32 580.40,120.55 580.74,123.53 577.80,122.30 574.86,123.53 575.20,120.55 573.05,118.32 576.20,117.70"/><polygon points="592.11,115.10 593.71,117.70 596.86,118.32 594.70,120.55 595.04,123.53 592.11,122.30 589.17,123.53 589.51,120.55 587.35,118.32 590.50,117.70"/><polygon points="527.73,129.42 529.34,132.02 532.48,132.64 530.33,134.87 530.67,137.85 527.73,136.62 524.80,137.85 525.14,134.87 522.98,132.64 526.13,132.02"/><polygon points="542.04,129.42 543.64,132.02 546.79,132.64 544.63,134.87 544.97,137.85 542.04,136.62 539.10,137.85 539.44,134.87 537.29,132.64 540.43,132.02"/><polygon points="556.34,129.42 557.95,132.02 561.09,132.64 558.94,134.87 559.28,137.85 556.34,136.62 553.41,137.85 553.75,134.87 551.59,132.64 554.74,132.02"/><polygon points="570.65,129.42 572.25,132.02 575.40,132.64 573.24,134.87 573.58,137.85 570.65,136.62 567.71,137.85 568.05,134.87 565.90,132.64 569.04,132.02"/><polygon points="584.95,129.42 586.56,132.02 589.70,132.64 587.55,134.87 587.89,137.85 584.95,136.62 582.02,137.85 582.36,134.87 580.20,132.64 583.35,132.02"/><polygon points="534.88,143.74 536.49,146.34 539.64,146.96 537.48,149.19 537.82,152.17 534.88,150.94 531.95,152.17 532.29,149.19 530.13,146.96 533.28,146.34"/><polygon points="549.19,143.74 550.79,146.34 553.94,146.96 551.79,149.19 552.13,152.17 549.19,150.94 546.25,152.17 546.59,149.19 544.44,146.96 547.59,146.34"/><polygon points="563.50,143.74 565.10,146.34 568.25,146.96 566.09,149.19 566.43,152.17 563.50,150.94 560.56,152.17 560.90,149.19 558.74,146.96 561.89,146.34"/><polygon points="577.80,143.74 579.40,146.34 582.55,146.96 580.40,149.19 580.74,152.17 577.80,150.94 574.86,152.17 575.20,149.19 573.05,146.96 576.20,146.34"/><polygon points="592.11,143.74 593.71,146.34 596.86,146.96 594.70,149.19 595.04,152.17 592.11,150.94 589.17,152.17 589.51,149.19 587.35,146.96 590.50,146.34"/><polygon points="527.73,158.06 529.34,160.66 532.48,161.28 530.33,163.51 530.67,166.49 527.73,165.26 524.80,166.49 525.14,163.51 522.98,161.28 526.13,160.66"/><polygon points="542.04,158.06 543.64,160.66 546.79,161.28 544.63,163.51 544.97,166.49 542.04,165.26 539.10,166.49 539.44,163.51 537.29,161.28 540.43,160.66"/><polygon points="556.34,158.06 557.95,160.66 561.09,161.28 558.94,163.51 559.28,166.49 556.34,165.26 553.41,166.49 553.75,163.51 551.59,161.28 554.74,160.66"/><polygon points="570.65,158.06 572.25,160.66 575.40,161.28 573.24,163.51 573.58,166.49 570.65,165.26 567.71,166.49 568.05,163.51 565.90,161.28 569.04,160.66"/><polygon points="584.95,158.06 586.56,160.66 589.70,161.28 587.55,163.51 587.89,166.49 584.95,165.26 582.02,166.49 582.36,163.51 580.20,161.28 583.35,160.66"/><polygon points="534.88,172.38 536.49,174.98 539.64,175.60 537.48,177.83 537.82,180.81 534.88,179.58 531.95,180.81 532.29,177.83 530.13,175.60 533.28,174.98"/><polygon points="549.19,172.38 550.79,174.98 553.94,175.60 551.79,177.83 552.13,180.81 549.19,179.58 546.25,180.81 546.59,177.83 544.44,175.60 547.59,174.98"/><polygon points="563.50,172.38 565.10,174.98 568.25,175.60 566.09,177.83 566.43,180.81 563.50,179.58 560.56,180.81 560.90,177.83 558.74,175.60 561.89,174.98"/><polygon points="577.80,172.38 579.40,174.98 582.55,175.60 580.40,177.83 580.74,180.81 577.80,179.58 574.86,180.81 575.20,177.83 573.05,175.60 576.20,174.98"/><polygon points="592.11,172.38 593.71,174.98 596.86,175.60 594.70,177.83 595.04,180.81 592.11,179.58 589.17,180.81 589.51,177.83 587.35,175.60 590.50,174.98"/><polygon points="527.73,186.70 529.34,189.30 532.48,189.92 530.33,192.15 530.67,195.13 527.73,193.90 524.80,195.13 525.14,192.15 522.98,189.92 526.13,189.30"/><polygon points="542.04,186.70 543.64,189.30 546.79,189.92 544.63,192.15 544.97,195.13 542.04,193.90 539.10,195.13 539.44,192.15 537.29,189.92 540.43,189.30"/><polygon points="556.34,186.70 557.95,189.30 561.09,189.92 558.94,192.15 559.28,195.13 556.34,193.90 553.41,195.13 553.75,192.15 551.59,189.92 554.74,189.30"/><polygon points="570.65,186.70 572.25,189.30 575.40,189.92 573.24,192.15 573.58,195.13 570.65,193.90 567.71,195.13 568.05,192.15 565.90,189.92 569.04,189.30"/><polygon points="584.95,186.70 586.56,189.30 589.70,189.92 587.55,192.15 587.89,195.13 584.95,193.90 582.02,195.13 582.36,192.15 580.20,189.92 583.35,189.30"/><polygon points="534.88,201.02 536.49,203.62 539.64,204.24 537.48,206.47 537.82,209.45 534.88,208.22 531.95,209.45 532.29,206.47 530.13,204.24 533.28,203.62"/><polygon points="549.19,201.02 550.79,203.62 553.94,204.24 551.79,206.47 552.13,209.45 549.19,208.22 546.25,209.45 546.59,206.47 544.44,204.24 547.59,203.62"/><polygon points="563.50,201.02 565.10,203.62 568.25,204.24 566.09,206.47 566.43,209.45 563.50,208.22 560.56,209.45 560.90,206.47 558.74,204.24 561.89,203.62"/><polygon points="577.80,201.02 579.40,203.62 582.55,204.24 580.40,206.47 580.74,209.45 577.80,208.22 574.86,209.45 575.20,206.47 573.05,204.24 576.20,203.62"/><polygon points="592.11,201.02 593.71,203.62 596.86,204.24 594.70,206.47 595.04,209.45 592.11,208.22 589.17,209.45 589.51,206.47 587.35,204.24 590.50,203.62"/><polygon points="527.73,215.34 529.34,217.94 532.48,218.56 530.33,220.79 530.67,223.77 527.73,222.54 524.80,223.77 525.14,220.79 522.98,218.56 526.13,217.94"/><polygon points="542.04,215.34 543.64,217.94 546.79,218.56 544.63,220.79 544.97,223.77 542.04,222.54 539.10,223.77 539.44,220.79 537.29,218.56 540.43,217.94"/><polygon points="556.34,215.34 557.95,217.94 561.09,218.56 558.94,220.79 559.28,223.77 556.34,222.54 553.41,223.77 553.75,220.79 551.59,218.56 554.74,217.94"/><polygon points="570.65,215.34 572.25,217.94 575.40,218.56 573.24,220.79 573.58,223.77 570.65,222.54 567.71,223.77 568.05,220.79 565.90,218.56 569.04,217.94"/><polygon points="584.95,215.34 586.56,217.94 589.70,218.56 587.55,220.79 587.89,223.77 584.95,222.54 582.02,223.77 582.36,220.79 580.20,218.56 583.35,217.94"/></g>
<line x1="587.38" x2="587.38" y1="43.70" y2="45.70" stroke="#cb2633" stroke-width="2"/>
<circle cx="587.38" cy="45.00" r="2.3" fill="#cb2633"/>
<rect x="575.62" y="44.70" width="23.50" height="161.80" fill="#c40f1c" fill-opacity="0.53"/>
<line x1="616.12" x2="616.12" y1="19.00" y2="25.40" stroke="#cb2633" stroke-width="2"/>
<circle cx="616.12" cy="22.50" r="2.3" fill="#cb2633"/>
<rect x="604.38" y="22.20" width="23.50" height="184.30" fill="#c40f1c" fill-opacity="0.70"/>
<clipPath id="c11"><rect x="604.38" y="22.20" width="23.50" height="184.30"/></clipPath>
<g clip-path="url(#c11)" fill="#000" fill-opacity=".3" stroke="#151510" stroke-opacity=".85" stroke-width="1.4"><circle cx="592.11" cy="5.00" r="1.5"/><circle cx="606.41" cy="5.00" r="1.5"/><circle cx="620.72" cy="5.00" r="1.5"/><circle cx="635.02" cy="5.00" r="1.5"/><circle cx="649.33" cy="5.00" r="1.5"/><circle cx="584.95" cy="19.32" r="1.5"/><circle cx="599.26" cy="19.32" r="1.5"/><circle cx="613.56" cy="19.32" r="1.5"/><circle cx="627.87" cy="19.32" r="1.5"/><circle cx="642.17" cy="19.32" r="1.5"/><circle cx="592.11" cy="33.64" r="1.5"/><circle cx="606.41" cy="33.64" r="1.5"/><circle cx="620.72" cy="33.64" r="1.5"/><circle cx="635.02" cy="33.64" r="1.5"/><circle cx="649.33" cy="33.64" r="1.5"/><circle cx="584.95" cy="47.96" r="1.5"/><circle cx="599.26" cy="47.96" r="1.5"/><circle cx="613.56" cy="47.96" r="1.5"/><circle cx="627.87" cy="47.96" r="1.5"/><circle cx="642.17" cy="47.96" r="1.5"/><circle cx="592.11" cy="62.28" r="1.5"/><circle cx="606.41" cy="62.28" r="1.5"/><circle cx="620.72" cy="62.28" r="1.5"/><circle cx="635.02" cy="62.28" r="1.5"/><circle cx="649.33" cy="62.28" r="1.5"/><circle cx="584.95" cy="76.60" r="1.5"/><circle cx="599.26" cy="76.60" r="1.5"/><circle cx="613.56" cy="76.60" r="1.5"/><circle cx="627.87" cy="76.60" r="1.5"/><circle cx="642.17" cy="76.60" r="1.5"/><circle cx="592.11" cy="90.92" r="1.5"/><circle cx="606.41" cy="90.92" r="1.5"/><circle cx="620.72" cy="90.92" r="1.5"/><circle cx="635.02" cy="90.92" r="1.5"/><circle cx="649.33" cy="90.92" r="1.5"/><circle cx="584.95" cy="105.24" r="1.5"/><circle cx="599.26" cy="105.24" r="1.5"/><circle cx="613.56" cy="105.24" r="1.5"/><circle cx="627.87" cy="105.24" r="1.5"/><circle cx="642.17" cy="105.24" r="1.5"/><circle cx="592.11" cy="119.56" r="1.5"/><circle cx="606.41" cy="119.56" r="1.5"/><circle cx="620.72" cy="119.56" r="1.5"/><circle cx="635.02" cy="119.56" r="1.5"/><circle cx="649.33" cy="119.56" r="1.5"/><circle cx="584.95" cy="133.88" r="1.5"/><circle cx="599.26" cy="133.88" r="1.5"/><circle cx="613.56" cy="133.88" r="1.5"/><circle cx="627.87" cy="133.88" r="1.5"/><circle cx="642.17" cy="133.88" r="1.5"/><circle cx="592.11" cy="148.20" r="1.5"/><circle cx="606.41" cy="148.20" r="1.5"/><circle cx="620.72" cy="148.20" r="1.5"/><circle cx="635.02" cy="148.20" r="1.5"/><circle cx="649.33" cy="148.20" r="1.5"/><circle cx="584.95" cy="162.52" r="1.5"/><circle cx="599.26" cy="162.52" r="1.5"/><circle cx="613.56" cy="162.52" r="1.5"/><circle cx="627.87" cy="162.52" r="1.5"/><circle cx="642.17" cy="162.52" r="1.5"/><circle cx="592.11" cy="176.84" r="1.5"/><circle cx="606.41" cy="176.84" r="1.5"/><circle cx="620.72" cy="176.84" r="1.5"/><circle cx="635.02" cy="176.84" r="1.5"/><circle cx="649.33" cy="176.84" r="1.5"/><circle cx="584.95" cy="191.16" r="1.5"/><circle cx="599.26" cy="191.16" r="1.5"/><circle cx="613.56" cy="191.16" r="1.5"/><circle cx="627.87" cy="191.16" r="1.5"/><circle cx="642.17" cy="191.16" r="1.5"/><circle cx="592.11" cy="205.48" r="1.5"/><circle cx="606.41" cy="205.48" r="1.5"/><circle cx="620.72" cy="205.48" r="1.5"/><circle cx="635.02" cy="205.48" r="1.5"/><circle cx="649.33" cy="205.48" r="1.5"/><circle cx="584.95" cy="219.80" r="1.5"/><circle cx="599.26" cy="219.80" r="1.5"/><circle cx="613.56" cy="219.80" r="1.5"/><circle cx="627.87" cy="219.80" r="1.5"/><circle cx="642.17" cy="219.80" r="1.5"/></g>
<line x1="620.71" x2="620.71" y1="22.20" y2="206.50" stroke="#000" stroke-opacity="0.05" stroke-width="0.7"/>
<line x1="644.88" x2="644.88" y1="51.00" y2="53.00" stroke="#cb2633" stroke-width="2"/>
<circle cx="644.88" cy="52.30" r="2.3" fill="#cb2633"/>
<rect x="633.12" y="52.00" width="23.50" height="154.50" fill="#c40f1c" fill-opacity="0.90"/>
<clipPath id="c12"><rect x="633.12" y="52.00" width="23.50" height="154.50"/></clipPath>
<g clip-path="url(#c12)" fill="none" stroke="#0d0d0d" stroke-linejoin="bevel" stroke-width="1.45"><polygon points="620.72,29.18 622.32,31.78 625.47,32.40 623.31,34.63 623.65,37.61 620.72,36.38 617.78,37.61 618.12,34.63 615.96,32.40 619.11,31.78"/><polygon points="635.02,29.18 636.62,31.78 639.77,32.40 637.62,34.63 637.96,37.61 635.02,36.38 632.08,37.61 632.42,34.63 630.27,32.40 633.42,31.78"/><polygon points="649.33,29.18 650.93,31.78 654.08,32.40 651.92,34.63 652.26,37.61 649.33,36.38 646.39,37.61 646.73,34.63 644.57,32.40 647.72,31.78"/><polygon points="663.63,29.18 665.23,31.78 668.38,32.40 666.23,34.63 666.57,37.61 663.63,36.38 660.69,37.61 661.03,34.63 658.88,32.40 662.03,31.78"/><polygon points="677.94,29.18 679.54,31.78 682.69,32.40 680.53,34.63 680.87,37.61 677.94,36.38 675.00,37.61 675.34,34.63 673.18,32.40 676.33,31.78"/><polygon points="613.56,43.50 615.17,46.10 618.31,46.72 616.16,48.95 616.50,51.93 613.56,50.70 610.63,51.93 610.97,48.95 608.81,46.72 611.96,46.10"/><polygon points="627.87,43.50 629.47,46.10 632.62,46.72 630.46,48.95 630.80,51.93 627.87,50.70 624.93,51.93 625.27,48.95 623.12,46.72 626.26,46.10"/><polygon points="642.17,43.50 643.78,46.10 646.92,46.72 644.77,48.95 645.11,51.93 642.17,50.70 639.24,51.93 639.58,48.95 637.42,46.72 640.57,46.10"/><polygon points="656.48,43.50 658.08,46.10 661.23,46.72 659.07,48.95 659.41,51.93 656.48,50.70 653.54,51.93 653.88,48.95 651.73,46.72 654.87,46.10"/><polygon points="670.78,43.50 672.39,46.10 675.53,46.72 673.38,48.95 673.72,51.93 670.78,50.70 667.85,51.93 668.19,48.95 666.03,46.72 669.18,46.10"/><polygon points="620.72,57.82 622.32,60.42 625.47,61.04 623.31,63.27 623.65,66.25 620.72,65.02 617.78,66.25 618.12,63.27 615.96,61.04 619.11,60.42"/><polygon points="635.02,57.82 636.62,60.42 639.77,61.04 637.62,63.27 637.96,66.25 635.02,65.02 632.08,66.25 632.42,63.27 630.27,61.04 633.42,60.42"/><polygon points="649.33,57.82 650.93,60.42 654.08,61.04 651.92,63.27 652.26,66.25 649.33,65.02 646.39,66.25 646.73,63.27 644.57,61.04 647.72,60.42"/><polygon points="663.63,57.82 665.23,60.42 668.38,61.04 666.23,63.27 666.57,66.25 663.63,65.02 660.69,66.25 661.03,63.27 658.88,61.04 662.03,60.42"/><polygon points="677.94,57.82 679.54,60.42 682.69,61.04 680.53,63.27 680.87,66.25 677.94,65.02 675.00,66.25 675.34,63.27 673.18,61.04 676.33,60.42"/><polygon points="613.56,72.14 615.17,74.74 618.31,75.36 616.16,77.59 616.50,80.57 613.56,79.34 610.63,80.57 610.97,77.59 608.81,75.36 611.96,74.74"/><polygon points="627.87,72.14 629.47,74.74 632.62,75.36 630.46,77.59 630.80,80.57 627.87,79.34 624.93,80.57 625.27,77.59 623.12,75.36 626.26,74.74"/><polygon points="642.17,72.14 643.78,74.74 646.92,75.36 644.77,77.59 645.11,80.57 642.17,79.34 639.24,80.57 639.58,77.59 637.42,75.36 640.57,74.74"/><polygon points="656.48,72.14 658.08,74.74 661.23,75.36 659.07,77.59 659.41,80.57 656.48,79.34 653.54,80.57 653.88,77.59 651.73,75.36 654.87,74.74"/><polygon points="670.78,72.14 672.39,74.74 675.53,75.36 673.38,77.59 673.72,80.57 670.78,79.34 667.85,80.57 668.19,77.59 666.03,75.36 669.18,74.74"/><polygon points="620.72,86.46 622.32,89.06 625.47,89.68 623.31,91.91 623.65,94.89 620.72,93.66 617.78,94.89 618.12,91.91 615.96,89.68 619.11,89.06"/><polygon points="635.02,86.46 636.62,89.06 639.77,89.68 637.62,91.91 637.96,94.89 635.02,93.66 632.08,94.89 632.42,91.91 630.27,89.68 633.42,89.06"/><polygon points="649.33,86.46 650.93,89.06 654.08,89.68 651.92,91.91 652.26,94.89 649.33,93.66 646.39,94.89 646.73,91.91 644.57,89.68 647.72,89.06"/><polygon points="663.63,86.46 665.23,89.06 668.38,89.68 666.23,91.91 666.57,94.89 663.63,93.66 660.69,94.89 661.03,91.91 658.88,89.68 662.03,89.06"/><polygon points="677.94,86.46 679.54,89.06 682.69,89.68 680.53,91.91 680.87,94.89 677.94,93.66 675.00,94.89 675.34,91.91 673.18,89.68 676.33,89.06"/><polygon points="613.56,100.78 615.17,103.38 618.31,104.00 616.16,106.23 616.50,109.21 613.56,107.98 610.63,109.21 610.97,106.23 608.81,104.00 611.96,103.38"/><polygon points="627.87,100.78 629.47,103.38 632.62,104.00 630.46,106.23 630.80,109.21 627.87,107.98 624.93,109.21 625.27,106.23 623.12,104.00 626.26,103.38"/><polygon points="642.17,100.78 643.78,103.38 646.92,104.00 644.77,106.23 645.11,109.21 642.17,107.98 639.24,109.21 639.58,106.23 637.42,104.00 640.57,103.38"/><polygon points="656.48,100.78 658.08,103.38 661.23,104.00 659.07,106.23 659.41,109.21 656.48,107.98 653.54,109.21 653.88,106.23 651.73,104.00 654.87,103.38"/><polygon points="670.78,100.78 672.39,103.38 675.53,104.00 673.38,106.23 673.72,109.21 670.78,107.98 667.85,109.21 668.19,106.23 666.03,104.00 669.18,103.38"/><polygon points="620.72,115.10 622.32,117.70 625.47,118.32 623.31,120.55 623.65,123.53 620.72,122.30 617.78,123.53 618.12,120.55 615.96,118.32 619.11,117.70"/><polygon points="635.02,115.10 636.62,117.70 639.77,118.32 637.62,120.55 637.96,123.53 635.02,122.30 632.08,123.53 632.42,120.55 630.27,118.32 633.42,117.70"/><polygon points="649.33,115.10 650.93,117.70 654.08,118.32 651.92,120.55 652.26,123.53 649.33,122.30 646.39,123.53 646.73,120.55 644.57,118.32 647.72,117.70"/><polygon points="663.63,115.10 665.23,117.70 668.38,118.32 666.23,120.55 666.57,123.53 663.63,122.30 660.69,123.53 661.03,120.55 658.88,118.32 662.03,117.70"/><polygon points="677.94,115.10 679.54,117.70 682.69,118.32 680.53,120.55 680.87,123.53 677.94,122.30 675.00,123.53 675.34,120.55 673.18,118.32 676.33,117.70"/><polygon points="613.56,129.42 615.17,132.02 618.31,132.64 616.16,134.87 616.50,137.85 613.56,136.62 610.63,137.85 610.97,134.87 608.81,132.64 611.96,132.02"/><polygon points="627.87,129.42 629.47,132.02 632.62,132.64 630.46,134.87 630.80,137.85 627.87,136.62 624.93,137.85 625.27,134.87 623.12,132.64 626.26,132.02"/><polygon points="642.17,129.42 643.78,132.02 646.92,132.64 644.77,134.87 645.11,137.85 642.17,136.62 639.24,137.85 639.58,134.87 637.42,132.64 640.57,132.02"/><polygon points="656.48,129.42 658.08,132.02 661.23,132.64 659.07,134.87 659.41,137.85 656.48,136.62 653.54,137.85 653.88,134.87 651.73,132.64 654.87,132.02"/><polygon points="670.78,129.42 672.39,132.02 675.53,132.64 673.38,134.87 673.72,137.85 670.78,136.62 667.85,137.85 668.19,134.87 666.03,132.64 669.18,132.02"/><polygon points="620.72,143.74 622.32,146.34 625.47,146.96 623.31,149.19 623.65,152.17 620.72,150.94 617.78,152.17 618.12,149.19 615.96,146.96 619.11,146.34"/><polygon points="635.02,143.74 636.62,146.34 639.77,146.96 637.62,149.19 637.96,152.17 635.02,150.94 632.08,152.17 632.42,149.19 630.27,146.96 633.42,146.34"/><polygon points="649.33,143.74 650.93,146.34 654.08,146.96 651.92,149.19 652.26,152.17 649.33,150.94 646.39,152.17 646.73,149.19 644.57,146.96 647.72,146.34"/><polygon points="663.63,143.74 665.23,146.34 668.38,146.96 666.23,149.19 666.57,152.17 663.63,150.94 660.69,152.17 661.03,149.19 658.88,146.96 662.03,146.34"/><polygon points="677.94,143.74 679.54,146.34 682.69,146.96 680.53,149.19 680.87,152.17 677.94,150.94 675.00,152.17 675.34,149.19 673.18,146.96 676.33,146.34"/><polygon points="613.56,158.06 615.17,160.66 618.31,161.28 616.16,163.51 616.50,166.49 613.56,165.26 610.63,166.49 610.97,163.51 608.81,161.28 611.96,160.66"/><polygon points="627.87,158.06 629.47,160.66 632.62,161.28 630.46,163.51 630.80,166.49 627.87,165.26 624.93,166.49 625.27,163.51 623.12,161.28 626.26,160.66"/><polygon points="642.17,158.06 643.78,160.66 646.92,161.28 644.77,163.51 645.11,166.49 642.17,165.26 639.24,166.49 639.58,163.51 637.42,161.28 640.57,160.66"/><polygon points="656.48,158.06 658.08,160.66 661.23,161.28 659.07,163.51 659.41,166.49 656.48,165.26 653.54,166.49 653.88,163.51 651.73,161.28 654.87,160.66"/><polygon points="670.78,158.06 672.39,160.66 675.53,161.28 673.38,163.51 673.72,166.49 670.78,165.26 667.85,166.49 668.19,163.51 666.03,161.28 669.18,160.66"/><polygon points="620.72,172.38 622.32,174.98 625.47,175.60 623.31,177.83 623.65,180.81 620.72,179.58 617.78,180.81 618.12,177.83 615.96,175.60 619.11,174.98"/><polygon points="635.02,172.38 636.62,174.98 639.77,175.60 637.62,177.83 637.96,180.81 635.02,179.58 632.08,180.81 632.42,177.83 630.27,175.60 633.42,174.98"/><polygon points="649.33,172.38 650.93,174.98 654.08,175.60 651.92,177.83 652.26,180.81 649.33,179.58 646.39,180.81 646.73,177.83 644.57,175.60 647.72,174.98"/><polygon points="663.63,172.38 665.23,174.98 668.38,175.60 666.23,177.83 666.57,180.81 663.63,179.58 660.69,180.81 661.03,177.83 658.88,175.60 662.03,174.98"/><polygon points="677.94,172.38 679.54,174.98 682.69,175.60 680.53,177.83 680.87,180.81 677.94,179.58 675.00,180.81 675.34,177.83 673.18,175.60 676.33,174.98"/><polygon points="613.56,186.70 615.17,189.30 618.31,189.92 616.16,192.15 616.50,195.13 613.56,193.90 610.63,195.13 610.97,192.15 608.81,189.92 611.96,189.30"/><polygon points="627.87,186.70 629.47,189.30 632.62,189.92 630.46,192.15 630.80,195.13 627.87,193.90 624.93,195.13 625.27,192.15 623.12,189.92 626.26,189.30"/><polygon points="642.17,186.70 643.78,189.30 646.92,189.92 644.77,192.15 645.11,195.13 642.17,193.90 639.24,195.13 639.58,192.15 637.42,189.92 640.57,189.30"/><polygon points="656.48,186.70 658.08,189.30 661.23,189.92 659.07,192.15 659.41,195.13 656.48,193.90 653.54,195.13 653.88,192.15 651.73,189.92 654.87,189.30"/><polygon points="670.78,186.70 672.39,189.30 675.53,189.92 673.38,192.15 673.72,195.13 670.78,193.90 667.85,195.13 668.19,192.15 666.03,189.92 669.18,189.30"/><polygon points="620.72,201.02 622.32,203.62 625.47,204.24 623.31,206.47 623.65,209.45 620.72,208.22 617.78,209.45 618.12,206.47 615.96,204.24 619.11,203.62"/><polygon points="635.02,201.02 636.62,203.62 639.77,204.24 637.62,206.47 637.96,209.45 635.02,208.22 632.08,209.45 632.42,206.47 630.27,204.24 633.42,203.62"/><polygon points="649.33,201.02 650.93,203.62 654.08,204.24 651.92,206.47 652.26,209.45 649.33,208.22 646.39,209.45 646.73,206.47 644.57,204.24 647.72,203.62"/><polygon points="663.63,201.02 665.23,203.62 668.38,204.24 666.23,206.47 666.57,209.45 663.63,208.22 660.69,209.45 661.03,206.47 658.88,204.24 662.03,203.62"/><polygon points="677.94,201.02 679.54,203.62 682.69,204.24 680.53,206.47 680.87,209.45 677.94,208.22 675.00,209.45 675.34,206.47 673.18,204.24 676.33,203.62"/><polygon points="613.56,215.34 615.17,217.94 618.31,218.56 616.16,220.79 616.50,223.77 613.56,222.54 610.63,223.77 610.97,220.79 608.81,218.56 611.96,217.94"/><polygon points="627.87,215.34 629.47,217.94 632.62,218.56 630.46,220.79 630.80,223.77 627.87,222.54 624.93,223.77 625.27,220.79 623.12,218.56 626.26,217.94"/><polygon points="642.17,215.34 643.78,217.94 646.92,218.56 644.77,220.79 645.11,223.77 642.17,222.54 639.24,223.77 639.58,220.79 637.42,218.56 640.57,217.94"/><polygon points="656.48,215.34 658.08,217.94 661.23,218.56 659.07,220.79 659.41,223.77 656.48,222.54 653.54,223.77 653.88,220.79 651.73,218.56 654.87,217.94"/><polygon points="670.78,215.34 672.39,217.94 675.53,218.56 673.38,220.79 673.72,223.77 670.78,222.54 667.85,223.77 668.19,220.79 666.03,218.56 669.18,217.94"/></g>
<rect x="78.90" y="8.10" width="604.80" height="198.40" fill="none" stroke="#4d4d4d" stroke-width="1.7"/>
<g stroke="#4d4d4d" stroke-width="1.1"><line x1="74.3" x2="78.9" y1="206.50" y2="206.50"/><line x1="74.3" x2="78.9" y1="178.24" y2="178.24"/><line x1="74.3" x2="78.9" y1="149.99" y2="149.99"/><line x1="74.3" x2="78.9" y1="121.73" y2="121.73"/><line x1="74.3" x2="78.9" y1="93.47" y2="93.47"/><line x1="74.3" x2="78.9" y1="65.21" y2="65.21"/><line x1="74.3" x2="78.9" y1="36.96" y2="36.96"/><line x1="74.3" x2="78.9" y1="8.70" y2="8.70"/><line x1="189.80" x2="189.80" y1="206.50" y2="211.10"/><line x1="381.40" x2="381.40" y1="206.50" y2="211.10"/><line x1="573.00" x2="573.00" y1="206.50" y2="211.10"/></g>
<g font-size="26.3" fill="#000" stroke="#000" stroke-width="0.35"><text x="65" y="215.50" text-anchor="end">1.7</text><text x="65" y="187.24" text-anchor="end">1.8</text><text x="65" y="158.99" text-anchor="end">1.9</text><text x="65" y="130.73" text-anchor="end">2.0</text><text x="65" y="102.47" text-anchor="end">2.1</text><text x="65" y="74.21" text-anchor="end">2.2</text><text x="65" y="45.96" text-anchor="end">2.3</text><text x="65" y="17.70" text-anchor="end">2.4</text><text x="189.30" y="234.20" text-anchor="middle">0.5</text><text x="380.90" y="234.20" text-anchor="middle">2.5</text><text x="572.50" y="234.20" text-anchor="middle">4.5</text></g>
<text x="381.0" y="261.40" text-anchor="middle" font-size="26.3" font-weight="bold" font-style="italic" stroke="#000" stroke-width="0.4">GMM time</text>
<text transform="translate(18.6,108.50) rotate(-90)" text-anchor="middle" font-size="26.3" font-weight="bold" font-style="italic" stroke="#000" stroke-width="0.4">MSE-HG</text>
<g stroke="#dedede" stroke-width="1.1"><line x1="78.9" x2="683.7" y1="455.43" y2="455.43"/><line x1="78.9" x2="683.7" y1="426.76" y2="426.76"/><line x1="78.9" x2="683.7" y1="398.09" y2="398.09"/><line x1="78.9" x2="683.7" y1="369.42" y2="369.42"/><line x1="78.9" x2="683.7" y1="340.75" y2="340.75"/><line x1="78.9" x2="683.7" y1="312.08" y2="312.08"/></g>
<line x1="117.93" x2="117.93" y1="452.90" y2="455.90" stroke="#abb35e" stroke-width="2"/>
<circle cx="117.93" cy="454.70" r="2.3" fill="#abb35e"/>
<rect x="106.18" y="454.40" width="23.50" height="29.70" fill="#a7af55" fill-opacity="0.50"/>
<line x1="146.68" x2="146.68" y1="442.40" y2="446.40" stroke="#abb35e" stroke-width="2"/>
<circle cx="146.68" cy="444.70" r="2.3" fill="#abb35e"/>
<rect x="134.93" y="444.40" width="23.50" height="39.70" fill="#a7af55" fill-opacity="0.70"/>
<clipPath id="c13"><rect x="134.93" y="444.40" width="23.50" height="39.70"/></clipPath>
<g clip-path="url(#c13)" fill="#000" fill-opacity=".3" stroke="#151510" stroke-opacity=".85" stroke-width="1.4"><circle cx="115.94" cy="426.08" r="1.5"/><circle cx="130.25" cy="426.08" r="1.5"/><circle cx="144.55" cy="426.08" r="1.5"/><circle cx="158.86" cy="426.08" r="1.5"/><circle cx="173.16" cy="426.08" r="1.5"/><circle cx="123.09" cy="440.40" r="1.5"/><circle cx="137.40" cy="440.40" r="1.5"/><circle cx="151.70" cy="440.40" r="1.5"/><circle cx="166.01" cy="440.40" r="1.5"/><circle cx="180.31" cy="440.40" r="1.5"/><circle cx="115.94" cy="454.72" r="1.5"/><circle cx="130.25" cy="454.72" r="1.5"/><circle cx="144.55" cy="454.72" r="1.5"/><circle cx="158.86" cy="454.72" r="1.5"/><circle cx="173.16" cy="454.72" r="1.5"/><circle cx="123.09" cy="469.04" r="1.5"/><circle cx="137.40" cy="469.04" r="1.5"/><circle cx="151.70" cy="469.04" r="1.5"/><circle cx="166.01" cy="469.04" r="1.5"/><circle cx="180.31" cy="469.04" r="1.5"/><circle cx="115.94" cy="483.36" r="1.5"/><circle cx="130.25" cy="483.36" r="1.5"/><circle cx="144.55" cy="483.36" r="1.5"/><circle cx="158.86" cy="483.36" r="1.5"/><circle cx="173.16" cy="483.36" r="1.5"/><circle cx="123.09" cy="497.68" r="1.5"/><circle cx="137.40" cy="497.68" r="1.5"/><circle cx="151.70" cy="497.68" r="1.5"/><circle cx="166.01" cy="497.68" r="1.5"/><circle cx="180.31" cy="497.68" r="1.5"/></g>
<line x1="144.53" x2="144.53" y1="444.40" y2="484.10" stroke="#000" stroke-opacity="0.05" stroke-width="0.7"/>
<line x1="175.43" x2="175.43" y1="447.40" y2="451.40" stroke="#abb35e" stroke-width="2"/>
<circle cx="175.43" cy="449.70" r="2.3" fill="#abb35e"/>
<rect x="163.68" y="449.40" width="23.50" height="34.70" fill="#a7af55" fill-opacity="0.90"/>
<clipPath id="c14"><rect x="163.68" y="449.40" width="23.50" height="34.70"/></clipPath>
<g clip-path="url(#c14)" fill="none" stroke="#0d0d0d" stroke-linejoin="bevel" stroke-width="1.45"><polygon points="151.70,435.94 153.31,438.54 156.45,439.16 154.30,441.39 154.64,444.37 151.70,443.14 148.77,444.37 149.11,441.39 146.95,439.16 150.10,438.54"/><polygon points="166.01,435.94 167.61,438.54 170.76,439.16 168.60,441.39 168.94,444.37 166.01,443.14 163.07,444.37 163.41,441.39 161.26,439.16 164.40,438.54"/><polygon points="180.31,435.94 181.92,438.54 185.06,439.16 182.91,441.39 183.25,444.37 180.31,443.14 177.38,444.37 177.72,441.39 175.56,439.16 178.71,438.54"/><polygon points="194.62,435.94 196.22,438.54 199.37,439.16 197.21,441.39 197.55,444.37 194.62,443.14 191.68,444.37 192.02,441.39 189.87,439.16 193.01,438.54"/><polygon points="208.92,435.94 210.53,438.54 213.67,439.16 211.52,441.39 211.86,444.37 208.92,443.14 205.99,444.37 206.33,441.39 204.17,439.16 207.32,438.54"/><polygon points="144.55,450.26 146.15,452.86 149.30,453.48 147.15,455.71 147.49,458.69 144.55,457.46 141.61,458.69 141.95,455.71 139.80,453.48 142.95,452.86"/><polygon points="158.86,450.26 160.46,452.86 163.61,453.48 161.45,455.71 161.79,458.69 158.86,457.46 155.92,458.69 156.26,455.71 154.10,453.48 157.25,452.86"/><polygon points="173.16,450.26 174.76,452.86 177.91,453.48 175.76,455.71 176.10,458.69 173.16,457.46 170.22,458.69 170.56,455.71 168.41,453.48 171.56,452.86"/><polygon points="187.47,450.26 189.07,452.86 192.22,453.48 190.06,455.71 190.40,458.69 187.47,457.46 184.53,458.69 184.87,455.71 182.71,453.48 185.86,452.86"/><polygon points="201.77,450.26 203.37,452.86 206.52,453.48 204.37,455.71 204.71,458.69 201.77,457.46 198.83,458.69 199.17,455.71 197.02,453.48 200.17,452.86"/><polygon points="151.70,464.58 153.31,467.18 156.45,467.80 154.30,470.03 154.64,473.01 151.70,471.78 148.77,473.01 149.11,470.03 146.95,467.80 150.10,467.18"/><polygon points="166.01,464.58 167.61,467.18 170.76,467.80 168.60,470.03 168.94,473.01 166.01,471.78 163.07,473.01 163.41,470.03 161.26,467.80 164.40,467.18"/><polygon points="180.31,464.58 181.92,467.18 185.06,467.80 182.91,470.03 183.25,473.01 180.31,471.78 177.38,473.01 177.72,470.03 175.56,467.80 178.71,467.18"/><polygon points="194.62,464.58 196.22,467.18 199.37,467.80 197.21,470.03 197.55,473.01 194.62,471.78 191.68,473.01 192.02,470.03 189.87,467.80 193.01,467.18"/><polygon points="208.92,464.58 210.53,467.18 213.67,467.80 211.52,470.03 211.86,473.01 208.92,471.78 205.99,473.01 206.33,470.03 204.17,467.80 207.32,467.18"/><polygon points="144.55,478.90 146.15,481.50 149.30,482.12 147.15,484.35 147.49,487.33 144.55,486.10 141.61,487.33 141.95,484.35 139.80,482.12 142.95,481.50"/><polygon points="158.86,478.90 160.46,481.50 163.61,482.12 161.45,484.35 161.79,487.33 158.86,486.10 155.92,487.33 156.26,484.35 154.10,482.12 157.25,481.50"/><polygon points="173.16,478.90 174.76,481.50 177.91,482.12 175.76,484.35 176.10,487.33 173.16,486.10 170.22,487.33 170.56,484.35 168.41,482.12 171.56,481.50"/><polygon points="187.47,478.90 189.07,481.50 192.22,482.12 190.06,484.35 190.40,487.33 187.47,486.10 184.53,487.33 184.87,484.35 182.71,482.12 185.86,481.50"/><polygon points="201.77,478.90 203.37,481.50 206.52,482.12 204.37,484.35 204.71,487.33 201.77,486.10 198.83,487.33 199.17,484.35 197.02,482.12 200.17,481.50"/><polygon points="151.70,493.22 153.31,495.82 156.45,496.44 154.30,498.67 154.64,501.65 151.70,500.42 148.77,501.65 149.11,498.67 146.95,496.44 150.10,495.82"/><polygon points="166.01,493.22 167.61,495.82 170.76,496.44 168.60,498.67 168.94,501.65 166.01,500.42 163.07,501.65 163.41,498.67 161.26,496.44 164.40,495.82"/><polygon points="180.31,493.22 181.92,495.82 185.06,496.44 182.91,498.67 183.25,501.65 180.31,500.42 177.38,501.65 177.72,498.67 175.56,496.44 178.71,495.82"/><polygon points="194.62,493.22 196.22,495.82 199.37,496.44 197.21,498.67 197.55,501.65 194.62,500.42 191.68,501.65 192.02,498.67 189.87,496.44 193.01,495.82"/><polygon points="208.92,493.22 210.53,495.82 213.67,496.44 211.52,498.67 211.86,501.65 208.92,500.42 205.99,501.65 206.33,498.67 204.17,496.44 207.32,495.82"/></g>
<line x1="204.18" x2="204.18" y1="455.70" y2="458.70" stroke="#cb2633" stroke-width="2"/>
<circle cx="204.18" cy="457.50" r="2.3" fill="#cb2633"/>
<rect x="192.43" y="457.20" width="23.50" height="26.90" fill="#c40f1c" fill-opacity="0.53"/>
<line x1="232.93" x2="232.93" y1="447.50" y2="452.50" stroke="#cb2633" stroke-width="2"/>
<circle cx="232.93" cy="450.30" r="2.3" fill="#cb2633"/>
<rect x="221.18" y="450.00" width="23.50" height="34.10" fill="#c40f1c" fill-opacity="0.70"/>
<clipPath id="c15"><rect x="221.18" y="450.00" width="23.50" height="34.10"/></clipPath>
<g clip-path="url(#c15)" fill="#000" fill-opacity=".3" stroke="#151510" stroke-opacity=".85" stroke-width="1.4"><circle cx="208.92" cy="440.40" r="1.5"/><circle cx="223.23" cy="440.40" r="1.5"/><circle cx="237.53" cy="440.40" r="1.5"/><circle cx="251.84" cy="440.40" r="1.5"/><circle cx="266.14" cy="440.40" r="1.5"/><circle cx="201.77" cy="454.72" r="1.5"/><circle cx="216.07" cy="454.72" r="1.5"/><circle cx="230.38" cy="454.72" r="1.5"/><circle cx="244.69" cy="454.72" r="1.5"/><circle cx="258.99" cy="454.72" r="1.5"/><circle cx="208.92" cy="469.04" r="1.5"/><circle cx="223.23" cy="469.04" r="1.5"/><circle cx="237.53" cy="469.04" r="1.5"/><circle cx="251.84" cy="469.04" r="1.5"/><circle cx="266.14" cy="469.04" r="1.5"/><circle cx="201.77" cy="483.36" r="1.5"/><circle cx="216.07" cy="483.36" r="1.5"/><circle cx="230.38" cy="483.36" r="1.5"/><circle cx="244.69" cy="483.36" r="1.5"/><circle cx="258.99" cy="483.36" r="1.5"/><circle cx="208.92" cy="497.68" r="1.5"/><circle cx="223.23" cy="497.68" r="1.5"/><circle cx="237.53" cy="497.68" r="1.5"/><circle cx="251.84" cy="497.68" r="1.5"/><circle cx="266.14" cy="497.68" r="1.5"/></g>
<line x1="230.36" x2="230.36" y1="450.00" y2="484.10" stroke="#000" stroke-opacity="0.05" stroke-width="0.7"/>
<line x1="261.68" x2="261.68" y1="452.10" y2="456.10" stroke="#cb2633" stroke-width="2"/>
<circle cx="261.68" cy="454.40" r="2.3" fill="#cb2633"/>
<rect x="249.93" y="454.10" width="23.50" height="30.00" fill="#c40f1c" fill-opacity="0.90"/>
<clipPath id="c16"><rect x="249.93" y="454.10" width="23.50" height="30.00"/></clipPath>
<g clip-path="url(#c16)" fill="none" stroke="#0d0d0d" stroke-linejoin="bevel" stroke-width="1.45"><polygon points="237.53,435.94 239.14,438.54 242.28,439.16 240.13,441.39 240.47,444.37 237.53,443.14 234.60,444.37 234.94,441.39 232.78,439.16 235.93,438.54"/><polygon points="251.84,435.94 253.44,438.54 256.59,439.16 254.43,441.39 254.77,444.37 251.84,443.14 248.90,444.37 249.24,441.39 247.09,439.16 250.23,438.54"/><polygon points="266.14,435.94 267.75,438.54 270.89,439.16 268.74,441.39 269.08,444.37 266.14,443.14 263.21,444.37 263.55,441.39 261.39,439.16 264.54,438.54"/><polygon points="280.45,435.94 282.05,438.54 285.20,439.16 283.04,441.39 283.38,444.37 280.45,443.14 277.51,444.37 277.85,441.39 275.70,439.16 278.84,438.54"/><polygon points="294.75,435.94 296.36,438.54 299.50,439.16 297.35,441.39 297.69,444.37 294.75,443.14 291.82,444.37 292.16,441.39 290.00,439.16 293.15,438.54"/><polygon points="230.38,450.26 231.98,452.86 235.13,453.48 232.98,455.71 233.32,458.69 230.38,457.46 227.44,458.69 227.78,455.71 225.63,453.48 228.78,452.86"/><polygon points="244.69,450.26 246.29,452.86 249.44,453.48 247.28,455.71 247.62,458.69 244.69,457.46 241.75,458.69 242.09,455.71 239.93,453.48 243.08,452.86"/><polygon points="258.99,450.26 260.59,452.86 263.74,453.48 261.59,455.71 261.93,458.69 258.99,457.46 256.05,458.69 256.39,455.71 254.24,453.48 257.39,452.86"/><polygon points="273.30,450.26 274.90,452.86 278.05,453.48 275.89,455.71 276.23,458.69 273.30,457.46 270.36,458.69 270.70,455.71 268.54,453.48 271.69,452.86"/><polygon points="287.60,450.26 289.20,452.86 292.35,453.48 290.20,455.71 290.54,458.69 287.60,457.46 284.66,458.69 285.00,455.71 282.85,453.48 286.00,452.86"/><polygon points="237.53,464.58 239.14,467.18 242.28,467.80 240.13,470.03 240.47,473.01 237.53,471.78 234.60,473.01 234.94,470.03 232.78,467.80 235.93,467.18"/><polygon points="251.84,464.58 253.44,467.18 256.59,467.80 254.43,470.03 254.77,473.01 251.84,471.78 248.90,473.01 249.24,470.03 247.09,467.80 250.23,467.18"/><polygon points="266.14,464.58 267.75,467.18 270.89,467.80 268.74,470.03 269.08,473.01 266.14,471.78 263.21,473.01 263.55,470.03 261.39,467.80 264.54,467.18"/><polygon points="280.45,464.58 282.05,467.18 285.20,467.80 283.04,470.03 283.38,473.01 280.45,471.78 277.51,473.01 277.85,470.03 275.70,467.80 278.84,467.18"/><polygon points="294.75,464.58 296.36,467.18 299.50,467.80 297.35,470.03 297.69,473.01 294.75,471.78 291.82,473.01 292.16,470.03 290.00,467.80 293.15,467.18"/><polygon points="230.38,478.90 231.98,481.50 235.13,482.12 232.98,484.35 233.32,487.33 230.38,486.10 227.44,487.33 227.78,484.35 225.63,482.12 228.78,481.50"/><polygon points="244.69,478.90 246.29,481.50 249.44,482.12 247.28,484.35 247.62,487.33 244.69,486.10 241.75,487.33 242.09,484.35 239.93,482.12 243.08,481.50"/><polygon points="258.99,478.90 260.59,481.50 263.74,482.12 261.59,484.35 261.93,487.33 258.99,486.10 256.05,487.33 256.39,484.35 254.24,482.12 257.39,481.50"/><polygon points="273.30,478.90 274.90,481.50 278.05,482.12 275.89,484.35 276.23,487.33 273.30,486.10 270.36,487.33 270.70,484.35 268.54,482.12 271.69,481.50"/><polygon points="287.60,478.90 289.20,481.50 292.35,482.12 290.20,484.35 290.54,487.33 287.60,486.10 284.66,487.33 285.00,484.35 282.85,482.12 286.00,481.50"/><polygon points="237.53,493.22 239.14,495.82 242.28,496.44 240.13,498.67 240.47,501.65 237.53,500.42 234.60,501.65 234.94,498.67 232.78,496.44 235.93,495.82"/><polygon points="251.84,493.22 253.44,495.82 256.59,496.44 254.43,498.67 254.77,501.65 251.84,500.42 248.90,501.65 249.24,498.67 247.09,496.44 250.23,495.82"/><polygon points="266.14,493.22 267.75,495.82 270.89,496.44 268.74,498.67 269.08,501.65 266.14,500.42 263.21,501.65 263.55,498.67 261.39,496.44 264.54,495.82"/><polygon points="280.45,493.22 282.05,495.82 285.20,496.44 283.04,498.67 283.38,501.65 280.45,500.42 277.51,501.65 277.85,498.67 275.70,496.44 278.84,495.82"/><polygon points="294.75,493.22 296.36,495.82 299.50,496.44 297.35,498.67 297.69,501.65 294.75,500.42 291.82,501.65 292.16,498.67 290.00,496.44 293.15,495.82"/></g>
<line x1="309.52" x2="309.52" y1="354.20" y2="362.20" stroke="#abb35e" stroke-width="2"/>
<circle cx="309.52" cy="358.50" r="2.3" fill="#abb35e"/>
<rect x="297.77" y="358.20" width="23.50" height="125.90" fill="#a7af55" fill-opacity="0.50"/>
<line x1="338.27" x2="338.27" y1="324.00" y2="352.80" stroke="#abb35e" stroke-width="2"/>
<circle cx="338.27" cy="338.70" r="2.3" fill="#abb35e"/>
<rect x="326.52" y="338.40" width="23.50" height="145.70" fill="#a7af55" fill-opacity="0.70"/>
<clipPath id="c17"><rect x="326.52" y="338.40" width="23.50" height="145.70"/></clipPath>
<g clip-path="url(#c17)" fill="#000" fill-opacity=".3" stroke="#151510" stroke-opacity=".85" stroke-width="1.4"><circle cx="309.06" cy="325.84" r="1.5"/><circle cx="323.36" cy="325.84" r="1.5"/><circle cx="337.67" cy="325.84" r="1.5"/><circle cx="351.97" cy="325.84" r="1.5"/><circle cx="366.28" cy="325.84" r="1.5"/><circle cx="316.21" cy="340.16" r="1.5"/><circle cx="330.51" cy="340.16" r="1.5"/><circle cx="344.82" cy="340.16" r="1.5"/><circle cx="359.12" cy="340.16" r="1.5"/><circle cx="309.06" cy="354.48" r="1.5"/><circle cx="323.36" cy="354.48" r="1.5"/><circle cx="337.67" cy="354.48" r="1.5"/><circle cx="351.97" cy="354.48" r="1.5"/><circle cx="366.28" cy="354.48" r="1.5"/><circle cx="316.21" cy="368.80" r="1.5"/><circle cx="330.51" cy="368.80" r="1.5"/><circle cx="344.82" cy="368.80" r="1.5"/><circle cx="359.12" cy="368.80" r="1.5"/><circle cx="309.06" cy="383.12" r="1.5"/><circle cx="323.36" cy="383.12" r="1.5"/><circle cx="337.67" cy="383.12" r="1.5"/><circle cx="351.97" cy="383.12" r="1.5"/><circle cx="366.28" cy="383.12" r="1.5"/><circle cx="316.21" cy="397.44" r="1.5"/><circle cx="330.51" cy="397.44" r="1.5"/><circle cx="344.82" cy="397.44" r="1.5"/><circle cx="359.12" cy="397.44" r="1.5"/><circle cx="309.06" cy="411.76" r="1.5"/><circle cx="323.36" cy="411.76" r="1.5"/><circle cx="337.67" cy="411.76" r="1.5"/><circle cx="351.97" cy="411.76" r="1.5"/><circle cx="366.28" cy="411.76" r="1.5"/><circle cx="316.21" cy="426.08" r="1.5"/><circle cx="330.51" cy="426.08" r="1.5"/><circle cx="344.82" cy="426.08" r="1.5"/><circle cx="359.12" cy="426.08" r="1.5"/><circle cx="309.06" cy="440.40" r="1.5"/><circle cx="323.36" cy="440.40" r="1.5"/><circle cx="337.67" cy="440.40" r="1.5"/><circle cx="351.97" cy="440.40" r="1.5"/><circle cx="366.28" cy="440.40" r="1.5"/><circle cx="316.21" cy="454.72" r="1.5"/><circle cx="330.51" cy="454.72" r="1.5"/><circle cx="344.82" cy="454.72" r="1.5"/><circle cx="359.12" cy="454.72" r="1.5"/><circle cx="309.06" cy="469.04" r="1.5"/><circle cx="323.36" cy="469.04" r="1.5"/><circle cx="337.67" cy="469.04" r="1.5"/><circle cx="351.97" cy="469.04" r="1.5"/><circle cx="366.28" cy="469.04" r="1.5"/><circle cx="316.21" cy="483.36" r="1.5"/><circle cx="330.51" cy="483.36" r="1.5"/><circle cx="344.82" cy="483.36" r="1.5"/><circle cx="359.12" cy="483.36" r="1.5"/><circle cx="309.06" cy="497.68" r="1.5"/><circle cx="323.36" cy="497.68" r="1.5"/><circle cx="337.67" cy="497.68" r="1.5"/><circle cx="351.97" cy="497.68" r="1.5"/><circle cx="366.28" cy="497.68" r="1.5"/></g>
<line x1="367.02" x2="367.02" y1="380.40" y2="393.00" stroke="#abb35e" stroke-width="2"/>
<circle cx="367.02" cy="387.00" r="2.3" fill="#abb35e"/>
<rect x="355.27" y="386.70" width="23.50" height="97.40" fill="#a7af55" fill-opacity="0.90"/>
<clipPath id="c18"><rect x="355.27" y="386.70" width="23.50" height="97.40"/></clipPath>
<g clip-path="url(#c18)" fill="none" stroke="#0d0d0d" stroke-linejoin="bevel" stroke-width="1.45"><polygon points="344.82,364.34 346.42,366.94 349.57,367.56 347.42,369.79 347.76,372.77 344.82,371.54 341.88,372.77 342.22,369.79 340.07,367.56 343.22,366.94"/><polygon points="359.12,364.34 360.73,366.94 363.88,367.56 361.72,369.79 362.06,372.77 359.12,371.54 356.19,372.77 356.53,369.79 354.37,367.56 357.52,366.94"/><polygon points="373.43,364.34 375.03,366.94 378.18,367.56 376.03,369.79 376.37,372.77 373.43,371.54 370.49,372.77 370.83,369.79 368.68,367.56 371.83,366.94"/><polygon points="387.74,364.34 389.34,366.94 392.49,367.56 390.33,369.79 390.67,372.77 387.74,371.54 384.80,372.77 385.14,369.79 382.98,367.56 386.13,366.94"/><polygon points="337.67,378.66 339.27,381.26 342.42,381.88 340.26,384.11 340.60,387.09 337.67,385.86 334.73,387.09 335.07,384.11 332.92,381.88 336.06,381.26"/><polygon points="351.97,378.66 353.58,381.26 356.72,381.88 354.57,384.11 354.91,387.09 351.97,385.86 349.04,387.09 349.38,384.11 347.22,381.88 350.37,381.26"/><polygon points="366.28,378.66 367.88,381.26 371.03,381.88 368.87,384.11 369.21,387.09 366.28,385.86 363.34,387.09 363.68,384.11 361.53,381.88 364.67,381.26"/><polygon points="380.58,378.66 382.19,381.26 385.33,381.88 383.18,384.11 383.52,387.09 380.58,385.86 377.65,387.09 377.99,384.11 375.83,381.88 378.98,381.26"/><polygon points="394.89,378.66 396.49,381.26 399.64,381.88 397.48,384.11 397.82,387.09 394.89,385.86 391.95,387.09 392.29,384.11 390.14,381.88 393.28,381.26"/><polygon points="344.82,392.98 346.42,395.58 349.57,396.20 347.42,398.43 347.76,401.41 344.82,400.18 341.88,401.41 342.22,398.43 340.07,396.20 343.22,395.58"/><polygon points="359.12,392.98 360.73,395.58 363.88,396.20 361.72,398.43 362.06,401.41 359.12,400.18 356.19,401.41 356.53,398.43 354.37,396.20 357.52,395.58"/><polygon points="373.43,392.98 375.03,395.58 378.18,396.20 376.03,398.43 376.37,401.41 373.43,400.18 370.49,401.41 370.83,398.43 368.68,396.20 371.83,395.58"/><polygon points="387.74,392.98 389.34,395.58 392.49,396.20 390.33,398.43 390.67,401.41 387.74,400.18 384.80,401.41 385.14,398.43 382.98,396.20 386.13,395.58"/><polygon points="337.67,407.30 339.27,409.90 342.42,410.52 340.26,412.75 340.60,415.73 337.67,414.50 334.73,415.73 335.07,412.75 332.92,410.52 336.06,409.90"/><polygon points="351.97,407.30 353.58,409.90 356.72,410.52 354.57,412.75 354.91,415.73 351.97,414.50 349.04,415.73 349.38,412.75 347.22,410.52 350.37,409.90"/><polygon points="366.28,407.30 367.88,409.90 371.03,410.52 368.87,412.75 369.21,415.73 366.28,414.50 363.34,415.73 363.68,412.75 361.53,410.52 364.67,409.90"/><polygon points="380.58,407.30 382.19,409.90 385.33,410.52 383.18,412.75 383.52,415.73 380.58,414.50 377.65,415.73 377.99,412.75 375.83,410.52 378.98,409.90"/><polygon points="394.89,407.30 396.49,409.90 399.64,410.52 397.48,412.75 397.82,415.73 394.89,414.50 391.95,415.73 392.29,412.75 390.14,410.52 393.28,409.90"/><polygon points="344.82,421.62 346.42,424.22 349.57,424.84 347.42,427.07 347.76,430.05 344.82,428.82 341.88,430.05 342.22,427.07 340.07,424.84 343.22,424.22"/><polygon points="359.12,421.62 360.73,424.22 363.88,424.84 361.72,427.07 362.06,430.05 359.12,428.82 356.19,430.05 356.53,427.07 354.37,424.84 357.52,424.22"/><polygon points="373.43,421.62 375.03,424.22 378.18,424.84 376.03,427.07 376.37,430.05 373.43,428.82 370.49,430.05 370.83,427.07 368.68,424.84 371.83,424.22"/><polygon points="387.74,421.62 389.34,424.22 392.49,424.84 390.33,427.07 390.67,430.05 387.74,428.82 384.80,430.05 385.14,427.07 382.98,424.84 386.13,424.22"/><polygon points="337.67,435.94 339.27,438.54 342.42,439.16 340.26,441.39 340.60,444.37 337.67,443.14 334.73,444.37 335.07,441.39 332.92,439.16 336.06,438.54"/><polygon points="351.97,435.94 353.58,438.54 356.72,439.16 354.57,441.39 354.91,444.37 351.97,443.14 349.04,444.37 349.38,441.39 347.22,439.16 350.37,438.54"/><polygon points="366.28,435.94 367.88,438.54 371.03,439.16 368.87,441.39 369.21,444.37 366.28,443.14 363.34,444.37 363.68,441.39 361.53,439.16 364.67,438.54"/><polygon points="380.58,435.94 382.19,438.54 385.33,439.16 383.18,441.39 383.52,444.37 380.58,443.14 377.65,444.37 377.99,441.39 375.83,439.16 378.98,438.54"/><polygon points="394.89,435.94 396.49,438.54 399.64,439.16 397.48,441.39 397.82,444.37 394.89,443.14 391.95,444.37 392.29,441.39 390.14,439.16 393.28,438.54"/><polygon points="344.82,450.26 346.42,452.86 349.57,453.48 347.42,455.71 347.76,458.69 344.82,457.46 341.88,458.69 342.22,455.71 340.07,453.48 343.22,452.86"/><polygon points="359.12,450.26 360.73,452.86 363.88,453.48 361.72,455.71 362.06,458.69 359.12,457.46 356.19,458.69 356.53,455.71 354.37,453.48 357.52,452.86"/><polygon points="373.43,450.26 375.03,452.86 378.18,453.48 376.03,455.71 376.37,458.69 373.43,457.46 370.49,458.69 370.83,455.71 368.68,453.48 371.83,452.86"/><polygon points="387.74,450.26 389.34,452.86 392.49,453.48 390.33,455.71 390.67,458.69 387.74,457.46 384.80,458.69 385.14,455.71 382.98,453.48 386.13,452.86"/><polygon points="337.67,464.58 339.27,467.18 342.42,467.80 340.26,470.03 340.60,473.01 337.67,471.78 334.73,473.01 335.07,470.03 332.92,467.80 336.06,467.18"/><polygon points="351.97,464.58 353.58,467.18 356.72,467.80 354.57,470.03 354.91,473.01 351.97,471.78 349.04,473.01 349.38,470.03 347.22,467.80 350.37,467.18"/><polygon points="366.28,464.58 367.88,467.18 371.03,467.80 368.87,470.03 369.21,473.01 366.28,471.78 363.34,473.01 363.68,470.03 361.53,467.80 364.67,467.18"/><polygon points="380.58,464.58 382.19,467.18 385.33,467.80 383.18,470.03 383.52,473.01 380.58,471.78 377.65,473.01 377.99,470.03 375.83,467.80 378.98,467.18"/><polygon points="394.89,464.58 396.49,467.18 399.64,467.80 397.48,470.03 397.82,473.01 394.89,471.78 391.95,473.01 392.29,470.03 390.14,467.80 393.28,467.18"/><polygon points="344.82,478.90 346.42,481.50 349.57,482.12 347.42,484.35 347.76,487.33 344.82,486.10 341.88,487.33 342.22,484.35 340.07,482.12 343.22,481.50"/><polygon points="359.12,478.90 360.73,481.50 363.88,482.12 361.72,484.35 362.06,487.33 359.12,486.10 356.19,487.33 356.53,484.35 354.37,482.12 357.52,481.50"/><polygon points="373.43,478.90 375.03,481.50 378.18,482.12 376.03,484.35 376.37,487.33 373.43,486.10 370.49,487.33 370.83,484.35 368.68,482.12 371.83,481.50"/><polygon points="387.74,478.90 389.34,481.50 392.49,482.12 390.33,484.35 390.67,487.33 387.74,486.10 384.80,487.33 385.14,484.35 382.98,482.12 386.13,481.50"/><polygon points="337.67,493.22 339.27,495.82 342.42,496.44 340.26,498.67 340.60,501.65 337.67,500.42 334.73,501.65 335.07,498.67 332.92,496.44 336.06,495.82"/><polygon points="351.97,493.22 353.58,495.82 356.72,496.44 354.57,498.67 354.91,501.65 351.97,500.42 349.04,501.65 349.38,498.67 347.22,496.44 350.37,495.82"/><polygon points="366.28,493.22 367.88,495.82 371.03,496.44 368.87,498.67 369.21,501.65 366.28,500.42 363.34,501.65 363.68,498.67 361.53,496.44 364.67,495.82"/><polygon points="380.58,493.22 382.19,495.82 385.33,496.44 383.18,498.67 383.52,501.65 380.58,500.42 377.65,501.65 377.99,498.67 375.83,496.44 378.98,495.82"/><polygon points="394.89,493.22 396.49,495.82 399.64,496.44 397.48,498.67 397.82,501.65 394.89,500.42 391.95,501.65 392.29,498.67 390.14,496.44 393.28,495.82"/></g>
<line x1="395.77" x2="395.77" y1="362.20" y2="376.20" stroke="#cb2633" stroke-width="2"/>
<circle cx="395.77" cy="369.50" r="2.3" fill="#cb2633"/>
<rect x="384.02" y="369.20" width="23.50" height="114.90" fill="#c40f1c" fill-opacity="0.53"/>
<line x1="424.52" x2="424.52" y1="325.20" y2="338.40" stroke="#cb2633" stroke-width="2"/>
<circle cx="424.52" cy="332.10" r="2.3" fill="#cb2633"/>
<rect x="412.77" y="331.80" width="23.50" height="152.30" fill="#c40f1c" fill-opacity="0.70"/>
<clipPath id="c19"><rect x="412.77" y="331.80" width="23.50" height="152.30"/></clipPath>
<g clip-path="url(#c19)" fill="#000" fill-opacity=".3" stroke="#151510" stroke-opacity=".85" stroke-width="1.4"><circle cx="402.04" cy="311.52" r="1.5"/><circle cx="416.34" cy="311.52" r="1.5"/><circle cx="430.65" cy="311.52" r="1.5"/><circle cx="444.95" cy="311.52" r="1.5"/><circle cx="394.89" cy="325.84" r="1.5"/><circle cx="409.19" cy="325.84" r="1.5"/><circle cx="423.50" cy="325.84" r="1.5"/><circle cx="437.80" cy="325.84" r="1.5"/><circle cx="452.11" cy="325.84" r="1.5"/><circle cx="402.04" cy="340.16" r="1.5"/><circle cx="416.34" cy="340.16" r="1.5"/><circle cx="430.65" cy="340.16" r="1.5"/><circle cx="444.95" cy="340.16" r="1.5"/><circle cx="394.89" cy="354.48" r="1.5"/><circle cx="409.19" cy="354.48" r="1.5"/><circle cx="423.50" cy="354.48" r="1.5"/><circle cx="437.80" cy="354.48" r="1.5"/><circle cx="452.11" cy="354.48" r="1.5"/><circle cx="402.04" cy="368.80" r="1.5"/><circle cx="416.34" cy="368.80" r="1.5"/><circle cx="430.65" cy="368.80" r="1.5"/><circle cx="444.95" cy="368.80" r="1.5"/><circle cx="394.89" cy="383.12" r="1.5"/><circle cx="409.19" cy="383.12" r="1.5"/><circle cx="423.50" cy="383.12" r="1.5"/><circle cx="437.80" cy="383.12" r="1.5"/><circle cx="452.11" cy="383.12" r="1.5"/><circle cx="402.04" cy="397.44" r="1.5"/><circle cx="416.34" cy="397.44" r="1.5"/><circle cx="430.65" cy="397.44" r="1.5"/><circle cx="444.95" cy="397.44" r="1.5"/><circle cx="394.89" cy="411.76" r="1.5"/><circle cx="409.19" cy="411.76" r="1.5"/><circle cx="423.50" cy="411.76" r="1.5"/><circle cx="437.80" cy="411.76" r="1.5"/><circle cx="452.11" cy="411.76" r="1.5"/><circle cx="402.04" cy="426.08" r="1.5"/><circle cx="416.34" cy="426.08" r="1.5"/><circle cx="430.65" cy="426.08" r="1.5"/><circle cx="444.95" cy="426.08" r="1.5"/><circle cx="394.89" cy="440.40" r="1.5"/><circle cx="409.19" cy="440.40" r="1.5"/><circle cx="423.50" cy="440.40" r="1.5"/><circle cx="437.80" cy="440.40" r="1.5"/><circle cx="452.11" cy="440.40" r="1.5"/><circle cx="402.04" cy="454.72" r="1.5"/><circle cx="416.34" cy="454.72" r="1.5"/><circle cx="430.65" cy="454.72" r="1.5"/><circle cx="444.95" cy="454.72" r="1.5"/><circle cx="394.89" cy="469.04" r="1.5"/><circle cx="409.19" cy="469.04" r="1.5"/><circle cx="423.50" cy="469.04" r="1.5"/><circle cx="437.80" cy="469.04" r="1.5"/><circle cx="452.11" cy="469.04" r="1.5"/><circle cx="402.04" cy="483.36" r="1.5"/><circle cx="416.34" cy="483.36" r="1.5"/><circle cx="430.65" cy="483.36" r="1.5"/><circle cx="444.95" cy="483.36" r="1.5"/><circle cx="394.89" cy="497.68" r="1.5"/><circle cx="409.19" cy="497.68" r="1.5"/><circle cx="423.50" cy="497.68" r="1.5"/><circle cx="437.80" cy="497.68" r="1.5"/><circle cx="452.11" cy="497.68" r="1.5"/></g>
<line x1="453.27" x2="453.27" y1="392.00" y2="404.40" stroke="#cb2633" stroke-width="2"/>
<circle cx="453.27" cy="398.50" r="2.3" fill="#cb2633"/>
<rect x="441.52" y="398.20" width="23.50" height="85.90" fill="#c40f1c" fill-opacity="0.90"/>
<clipPath id="c20"><rect x="441.52" y="398.20" width="23.50" height="85.90"/></clipPath>
<g clip-path="url(#c20)" fill="none" stroke="#0d0d0d" stroke-linejoin="bevel" stroke-width="1.45"><polygon points="423.50,378.66 425.10,381.26 428.25,381.88 426.09,384.11 426.43,387.09 423.50,385.86 420.56,387.09 420.90,384.11 418.75,381.88 421.89,381.26"/><polygon points="437.80,378.66 439.41,381.26 442.55,381.88 440.40,384.11 440.74,387.09 437.80,385.86 434.87,387.09 435.21,384.11 433.05,381.88 436.20,381.26"/><polygon points="452.11,378.66 453.71,381.26 456.86,381.88 454.70,384.11 455.04,387.09 452.11,385.86 449.17,387.09 449.51,384.11 447.36,381.88 450.50,381.26"/><polygon points="466.41,378.66 468.02,381.26 471.16,381.88 469.01,384.11 469.35,387.09 466.41,385.86 463.48,387.09 463.82,384.11 461.66,381.88 464.81,381.26"/><polygon points="480.72,378.66 482.32,381.26 485.47,381.88 483.31,384.11 483.65,387.09 480.72,385.86 477.78,387.09 478.12,384.11 475.97,381.88 479.11,381.26"/><polygon points="430.65,392.98 432.25,395.58 435.40,396.20 433.25,398.43 433.59,401.41 430.65,400.18 427.71,401.41 428.05,398.43 425.90,396.20 429.05,395.58"/><polygon points="444.95,392.98 446.56,395.58 449.71,396.20 447.55,398.43 447.89,401.41 444.95,400.18 442.02,401.41 442.36,398.43 440.20,396.20 443.35,395.58"/><polygon points="459.26,392.98 460.86,395.58 464.01,396.20 461.86,398.43 462.20,401.41 459.26,400.18 456.32,401.41 456.66,398.43 454.51,396.20 457.66,395.58"/><polygon points="473.56,392.98 475.17,395.58 478.32,396.20 476.16,398.43 476.50,401.41 473.56,400.18 470.63,401.41 470.97,398.43 468.81,396.20 471.96,395.58"/><polygon points="423.50,407.30 425.10,409.90 428.25,410.52 426.09,412.75 426.43,415.73 423.50,414.50 420.56,415.73 420.90,412.75 418.75,410.52 421.89,409.90"/><polygon points="437.80,407.30 439.41,409.90 442.55,410.52 440.40,412.75 440.74,415.73 437.80,414.50 434.87,415.73 435.21,412.75 433.05,410.52 436.20,409.90"/><polygon points="452.11,407.30 453.71,409.90 456.86,410.52 454.70,412.75 455.04,415.73 452.11,414.50 449.17,415.73 449.51,412.75 447.36,410.52 450.50,409.90"/><polygon points="466.41,407.30 468.02,409.90 471.16,410.52 469.01,412.75 469.35,415.73 466.41,414.50 463.48,415.73 463.82,412.75 461.66,410.52 464.81,409.90"/><polygon points="480.72,407.30 482.32,409.90 485.47,410.52 483.31,412.75 483.65,415.73 480.72,414.50 477.78,415.73 478.12,412.75 475.97,410.52 479.11,409.90"/><polygon points="430.65,421.62 432.25,424.22 435.40,424.84 433.25,427.07 433.59,430.05 430.65,428.82 427.71,430.05 428.05,427.07 425.90,424.84 429.05,424.22"/><polygon points="444.95,421.62 446.56,424.22 449.71,424.84 447.55,427.07 447.89,430.05 444.95,428.82 442.02,430.05 442.36,427.07 440.20,424.84 443.35,424.22"/><polygon points="459.26,421.62 460.86,424.22 464.01,424.84 461.86,427.07 462.20,430.05 459.26,428.82 456.32,430.05 456.66,427.07 454.51,424.84 457.66,424.22"/><polygon points="473.56,421.62 475.17,424.22 478.32,424.84 476.16,427.07 476.50,430.05 473.56,428.82 470.63,430.05 470.97,427.07 468.81,424.84 471.96,424.22"/><polygon points="423.50,435.94 425.10,438.54 428.25,439.16 426.09,441.39 426.43,444.37 423.50,443.14 420.56,444.37 420.90,441.39 418.75,439.16 421.89,438.54"/><polygon points="437.80,435.94 439.41,438.54 442.55,439.16 440.40,441.39 440.74,444.37 437.80,443.14 434.87,444.37 435.21,441.39 433.05,439.16 436.20,438.54"/><polygon points="452.11,435.94 453.71,438.54 456.86,439.16 454.70,441.39 455.04,444.37 452.11,443.14 449.17,444.37 449.51,441.39 447.36,439.16 450.50,438.54"/><polygon points="466.41,435.94 468.02,438.54 471.16,439.16 469.01,441.39 469.35,444.37 466.41,443.14 463.48,444.37 463.82,441.39 461.66,439.16 464.81,438.54"/><polygon points="480.72,435.94 482.32,438.54 485.47,439.16 483.31,441.39 483.65,444.37 480.72,443.14 477.78,444.37 478.12,441.39 475.97,439.16 479.11,438.54"/><polygon points="430.65,450.26 432.25,452.86 435.40,453.48 433.25,455.71 433.59,458.69 430.65,457.46 427.71,458.69 428.05,455.71 425.90,453.48 429.05,452.86"/><polygon points="444.95,450.26 446.56,452.86 449.71,453.48 447.55,455.71 447.89,458.69 444.95,457.46 442.02,458.69 442.36,455.71 440.20,453.48 443.35,452.86"/><polygon points="459.26,450.26 460.86,452.86 464.01,453.48 461.86,455.71 462.20,458.69 459.26,457.46 456.32,458.69 456.66,455.71 454.51,453.48 457.66,452.86"/><polygon points="473.56,450.26 475.17,452.86 478.32,453.48 476.16,455.71 476.50,458.69 473.56,457.46 470.63,458.69 470.97,455.71 468.81,453.48 471.96,452.86"/><polygon points="423.50,464.58 425.10,467.18 428.25,467.80 426.09,470.03 426.43,473.01 423.50,471.78 420.56,473.01 420.90,470.03 418.75,467.80 421.89,467.18"/><polygon points="437.80,464.58 439.41,467.18 442.55,467.80 440.40,470.03 440.74,473.01 437.80,471.78 434.87,473.01 435.21,470.03 433.05,467.80 436.20,467.18"/><polygon points="452.11,464.58 453.71,467.18 456.86,467.80 454.70,470.03 455.04,473.01 452.11,471.78 449.17,473.01 449.51,470.03 447.36,467.80 450.50,467.18"/><polygon points="466.41,464.58 468.02,467.18 471.16,467.80 469.01,470.03 469.35,473.01 466.41,471.78 463.48,473.01 463.82,470.03 461.66,467.80 464.81,467.18"/><polygon points="480.72,464.58 482.32,467.18 485.47,467.80 483.31,470.03 483.65,473.01 480.72,471.78 477.78,473.01 478.12,470.03 475.97,467.80 479.11,467.18"/><polygon points="430.65,478.90 432.25,481.50 435.40,482.12 433.25,484.35 433.59,487.33 430.65,486.10 427.71,487.33 428.05,484.35 425.90,482.12 429.05,481.50"/><polygon points="444.95,478.90 446.56,481.50 449.71,482.12 447.55,484.35 447.89,487.33 444.95,486.10 442.02,487.33 442.36,484.35 440.20,482.12 443.35,481.50"/><polygon points="459.26,478.90 460.86,481.50 464.01,482.12 461.86,484.35 462.20,487.33 459.26,486.10 456.32,487.33 456.66,484.35 454.51,482.12 457.66,481.50"/><polygon points="473.56,478.90 475.17,481.50 478.32,482.12 476.16,484.35 476.50,487.33 473.56,486.10 470.63,487.33 470.97,484.35 468.81,482.12 471.96,481.50"/><polygon points="423.50,493.22 425.10,495.82 428.25,496.44 426.09,498.67 426.43,501.65 423.50,500.42 420.56,501.65 420.90,498.67 418.75,496.44 421.89,495.82"/><polygon points="437.80,493.22 439.41,495.82 442.55,496.44 440.40,498.67 440.74,501.65 437.80,500.42 434.87,501.65 435.21,498.67 433.05,496.44 436.20,495.82"/><polygon points="452.11,493.22 453.71,495.82 456.86,496.44 454.70,498.67 455.04,501.65 452.11,500.42 449.17,501.65 449.51,498.67 447.36,496.44 450.50,495.82"/><polygon points="466.41,493.22 468.02,495.82 471.16,496.44 469.01,498.67 469.35,501.65 466.41,500.42 463.48,501.65 463.82,498.67 461.66,496.44 464.81,495.82"/><polygon points="480.72,493.22 482.32,495.82 485.47,496.44 483.31,498.67 483.65,501.65 480.72,500.42 477.78,501.65 478.12,498.67 475.97,496.44 479.11,495.82"/></g>
<line x1="501.12" x2="501.12" y1="360.00" y2="378.00" stroke="#abb35e" stroke-width="2"/>
<circle cx="501.12" cy="369.30" r="2.3" fill="#abb35e"/>
<rect x="489.38" y="369.00" width="23.50" height="115.10" fill="#a7af55" fill-opacity="0.50"/>
<line x1="529.88" x2="529.88" y1="295.40" y2="310.80" stroke="#abb35e" stroke-width="2"/>
<circle cx="529.88" cy="303.40" r="2.3" fill="#abb35e"/>
<rect x="518.12" y="303.10" width="23.50" height="181.00" fill="#a7af55" fill-opacity="0.70"/>
<clipPath id="c21"><rect x="518.12" y="303.10" width="23.50" height="181.00"/></clipPath>
<g clip-path="url(#c21)" fill="#000" fill-opacity=".3" stroke="#151510" stroke-opacity=".85" stroke-width="1.4"><circle cx="502.18" cy="282.88" r="1.5"/><circle cx="516.48" cy="282.88" r="1.5"/><circle cx="530.78" cy="282.88" r="1.5"/><circle cx="545.09" cy="282.88" r="1.5"/><circle cx="559.39" cy="282.88" r="1.5"/><circle cx="509.33" cy="297.20" r="1.5"/><circle cx="523.63" cy="297.20" r="1.5"/><circle cx="537.94" cy="297.20" r="1.5"/><circle cx="552.24" cy="297.20" r="1.5"/><circle cx="502.18" cy="311.52" r="1.5"/><circle cx="516.48" cy="311.52" r="1.5"/><circle cx="530.78" cy="311.52" r="1.5"/><circle cx="545.09" cy="311.52" r="1.5"/><circle cx="559.39" cy="311.52" r="1.5"/><circle cx="509.33" cy="325.84" r="1.5"/><circle cx="523.63" cy="325.84" r="1.5"/><circle cx="537.94" cy="325.84" r="1.5"/><circle cx="552.24" cy="325.84" r="1.5"/><circle cx="502.18" cy="340.16" r="1.5"/><circle cx="516.48" cy="340.16" r="1.5"/><circle cx="530.78" cy="340.16" r="1.5"/><circle cx="545.09" cy="340.16" r="1.5"/><circle cx="559.39" cy="340.16" r="1.5"/><circle cx="509.33" cy="354.48" r="1.5"/><circle cx="523.63" cy="354.48" r="1.5"/><circle cx="537.94" cy="354.48" r="1.5"/><circle cx="552.24" cy="354.48" r="1.5"/><circle cx="502.18" cy="368.80" r="1.5"/><circle cx="516.48" cy="368.80" r="1.5"/><circle cx="530.78" cy="368.80" r="1.5"/><circle cx="545.09" cy="368.80" r="1.5"/><circle cx="559.39" cy="368.80" r="1.5"/><circle cx="509.33" cy="383.12" r="1.5"/><circle cx="523.63" cy="383.12" r="1.5"/><circle cx="537.94" cy="383.12" r="1.5"/><circle cx="552.24" cy="383.12" r="1.5"/><circle cx="502.18" cy="397.44" r="1.5"/><circle cx="516.48" cy="397.44" r="1.5"/><circle cx="530.78" cy="397.44" r="1.5"/><circle cx="545.09" cy="397.44" r="1.5"/><circle cx="559.39" cy="397.44" r="1.5"/><circle cx="509.33" cy="411.76" r="1.5"/><circle cx="523.63" cy="411.76" r="1.5"/><circle cx="537.94" cy="411.76" r="1.5"/><circle cx="552.24" cy="411.76" r="1.5"/><circle cx="502.18" cy="426.08" r="1.5"/><circle cx="516.48" cy="426.08" r="1.5"/><circle cx="530.78" cy="426.08" r="1.5"/><circle cx="545.09" cy="426.08" r="1.5"/><circle cx="559.39" cy="426.08" r="1.5"/><circle cx="509.33" cy="440.40" r="1.5"/><circle cx="523.63" cy="440.40" r="1.5"/><circle cx="537.94" cy="440.40" r="1.5"/><circle cx="552.24" cy="440.40" r="1.5"/><circle cx="502.18" cy="454.72" r="1.5"/><circle cx="516.48" cy="454.72" r="1.5"/><circle cx="530.78" cy="454.72" r="1.5"/><circle cx="545.09" cy="454.72" r="1.5"/><circle cx="559.39" cy="454.72" r="1.5"/><circle cx="509.33" cy="469.04" r="1.5"/><circle cx="523.63" cy="469.04" r="1.5"/><circle cx="537.94" cy="469.04" r="1.5"/><circle cx="552.24" cy="469.04" r="1.5"/><circle cx="502.18" cy="483.36" r="1.5"/><circle cx="516.48" cy="483.36" r="1.5"/><circle cx="530.78" cy="483.36" r="1.5"/><circle cx="545.09" cy="483.36" r="1.5"/><circle cx="559.39" cy="483.36" r="1.5"/><circle cx="509.33" cy="497.68" r="1.5"/><circle cx="523.63" cy="497.68" r="1.5"/><circle cx="537.94" cy="497.68" r="1.5"/><circle cx="552.24" cy="497.68" r="1.5"/></g>
<line x1="558.62" x2="558.62" y1="369.40" y2="384.00" stroke="#abb35e" stroke-width="2"/>
<circle cx="558.62" cy="377.00" r="2.3" fill="#abb35e"/>
<rect x="546.88" y="376.70" width="23.50" height="107.40" fill="#a7af55" fill-opacity="0.90"/>
<clipPath id="c22"><rect x="546.88" y="376.70" width="23.50" height="107.40"/></clipPath>
<g clip-path="url(#c22)" fill="none" stroke="#0d0d0d" stroke-linejoin="bevel" stroke-width="1.45"><polygon points="537.94,350.02 539.54,352.62 542.69,353.24 540.53,355.47 540.87,358.45 537.94,357.22 535.00,358.45 535.34,355.47 533.19,353.24 536.33,352.62"/><polygon points="552.24,350.02 553.85,352.62 556.99,353.24 554.84,355.47 555.18,358.45 552.24,357.22 549.31,358.45 549.65,355.47 547.49,353.24 550.64,352.62"/><polygon points="566.55,350.02 568.15,352.62 571.30,353.24 569.14,355.47 569.48,358.45 566.55,357.22 563.61,358.45 563.95,355.47 561.80,353.24 564.94,352.62"/><polygon points="580.85,350.02 582.46,352.62 585.60,353.24 583.45,355.47 583.79,358.45 580.85,357.22 577.92,358.45 578.26,355.47 576.10,353.24 579.25,352.62"/><polygon points="530.78,364.34 532.39,366.94 535.54,367.56 533.38,369.79 533.72,372.77 530.78,371.54 527.85,372.77 528.19,369.79 526.03,367.56 529.18,366.94"/><polygon points="545.09,364.34 546.69,366.94 549.84,367.56 547.69,369.79 548.03,372.77 545.09,371.54 542.15,372.77 542.49,369.79 540.34,367.56 543.49,366.94"/><polygon points="559.39,364.34 561.00,366.94 564.15,367.56 561.99,369.79 562.33,372.77 559.39,371.54 556.46,372.77 556.80,369.79 554.64,367.56 557.79,366.94"/><polygon points="573.70,364.34 575.30,366.94 578.45,367.56 576.30,369.79 576.64,372.77 573.70,371.54 570.76,372.77 571.10,369.79 568.95,367.56 572.10,366.94"/><polygon points="588.00,364.34 589.61,366.94 592.76,367.56 590.60,369.79 590.94,372.77 588.00,371.54 585.07,372.77 585.41,369.79 583.25,367.56 586.40,366.94"/><polygon points="537.94,378.66 539.54,381.26 542.69,381.88 540.53,384.11 540.87,387.09 537.94,385.86 535.00,387.09 535.34,384.11 533.19,381.88 536.33,381.26"/><polygon points="552.24,378.66 553.85,381.26 556.99,381.88 554.84,384.11 555.18,387.09 552.24,385.86 549.31,387.09 549.65,384.11 547.49,381.88 550.64,381.26"/><polygon points="566.55,378.66 568.15,381.26 571.30,381.88 569.14,384.11 569.48,387.09 566.55,385.86 563.61,387.09 563.95,384.11 561.80,381.88 564.94,381.26"/><polygon points="580.85,378.66 582.46,381.26 585.60,381.88 583.45,384.11 583.79,387.09 580.85,385.86 577.92,387.09 578.26,384.11 576.10,381.88 579.25,381.26"/><polygon points="530.78,392.98 532.39,395.58 535.54,396.20 533.38,398.43 533.72,401.41 530.78,400.18 527.85,401.41 528.19,398.43 526.03,396.20 529.18,395.58"/><polygon points="545.09,392.98 546.69,395.58 549.84,396.20 547.69,398.43 548.03,401.41 545.09,400.18 542.15,401.41 542.49,398.43 540.34,396.20 543.49,395.58"/><polygon points="559.39,392.98 561.00,395.58 564.15,396.20 561.99,398.43 562.33,401.41 559.39,400.18 556.46,401.41 556.80,398.43 554.64,396.20 557.79,395.58"/><polygon points="573.70,392.98 575.30,395.58 578.45,396.20 576.30,398.43 576.64,401.41 573.70,400.18 570.76,401.41 571.10,398.43 568.95,396.20 572.10,395.58"/><polygon points="588.00,392.98 589.61,395.58 592.76,396.20 590.60,398.43 590.94,401.41 588.00,400.18 585.07,401.41 585.41,398.43 583.25,396.20 586.40,395.58"/><polygon points="537.94,407.30 539.54,409.90 542.69,410.52 540.53,412.75 540.87,415.73 537.94,414.50 535.00,415.73 535.34,412.75 533.19,410.52 536.33,409.90"/><polygon points="552.24,407.30 553.85,409.90 556.99,410.52 554.84,412.75 555.18,415.73 552.24,414.50 549.31,415.73 549.65,412.75 547.49,410.52 550.64,409.90"/><polygon points="566.55,407.30 568.15,409.90 571.30,410.52 569.14,412.75 569.48,415.73 566.55,414.50 563.61,415.73 563.95,412.75 561.80,410.52 564.94,409.90"/><polygon points="580.85,407.30 582.46,409.90 585.60,410.52 583.45,412.75 583.79,415.73 580.85,414.50 577.92,415.73 578.26,412.75 576.10,410.52 579.25,409.90"/><polygon points="530.78,421.62 532.39,424.22 535.54,424.84 533.38,427.07 533.72,430.05 530.78,428.82 527.85,430.05 528.19,427.07 526.03,424.84 529.18,424.22"/><polygon points="545.09,421.62 546.69,424.22 549.84,424.84 547.69,427.07 548.03,430.05 545.09,428.82 542.15,430.05 542.49,427.07 540.34,424.84 543.49,424.22"/><polygon points="559.39,421.62 561.00,424.22 564.15,424.84 561.99,427.07 562.33,430.05 559.39,428.82 556.46,430.05 556.80,427.07 554.64,424.84 557.79,424.22"/><polygon points="573.70,421.62 575.30,424.22 578.45,424.84 576.30,427.07 576.64,430.05 573.70,428.82 570.76,430.05 571.10,427.07 568.95,424.84 572.10,424.22"/><polygon points="588.00,421.62 589.61,424.22 592.76,424.84 590.60,427.07 590.94,430.05 588.00,428.82 585.07,430.05 585.41,427.07 583.25,424.84 586.40,424.22"/><polygon points="537.94,435.94 539.54,438.54 542.69,439.16 540.53,441.39 540.87,444.37 537.94,443.14 535.00,444.37 535.34,441.39 533.19,439.16 536.33,438.54"/><polygon points="552.24,435.94 553.85,438.54 556.99,439.16 554.84,441.39 555.18,444.37 552.24,443.14 549.31,444.37 549.65,441.39 547.49,439.16 550.64,438.54"/><polygon points="566.55,435.94 568.15,438.54 571.30,439.16 569.14,441.39 569.48,444.37 566.55,443.14 563.61,444.37 563.95,441.39 561.80,439.16 564.94,438.54"/><polygon points="580.85,435.94 582.46,438.54 585.60,439.16 583.45,441.39 583.79,444.37 580.85,443.14 577.92,444.37 578.26,441.39 576.10,439.16 579.25,438.54"/><polygon points="530.78,450.26 532.39,452.86 535.54,453.48 533.38,455.71 533.72,458.69 530.78,457.46 527.85,458.69 528.19,455.71 526.03,453.48 529.18,452.86"/><polygon points="545.09,450.26 546.69,452.86 549.84,453.48 547.69,455.71 548.03,458.69 545.09,457.46 542.15,458.69 542.49,455.71 540.34,453.48 543.49,452.86"/><polygon points="559.39,450.26 561.00,452.86 564.15,453.48 561.99,455.71 562.33,458.69 559.39,457.46 556.46,458.69 556.80,455.71 554.64,453.48 557.79,452.86"/><polygon points="573.70,450.26 575.30,452.86 578.45,453.48 576.30,455.71 576.64,458.69 573.70,457.46 570.76,458.69 571.10,455.71 568.95,453.48 572.10,452.86"/><polygon points="588.00,450.26 589.61,452.86 592.76,453.48 590.60,455.71 590.94,458.69 588.00,457.46 585.07,458.69 585.41,455.71 583.25,453.48 586.40,452.86"/><polygon points="537.94,464.58 539.54,467.18 542.69,467.80 540.53,470.03 540.87,473.01 537.94,471.78 535.00,473.01 535.34,470.03 533.19,467.80 536.33,467.18"/><polygon points="552.24,464.58 553.85,467.18 556.99,467.80 554.84,470.03 555.18,473.01 552.24,471.78 549.31,473.01 549.65,470.03 547.49,467.80 550.64,467.18"/><polygon points="566.55,464.58 568.15,467.18 571.30,467.80 569.14,470.03 569.48,473.01 566.55,471.78 563.61,473.01 563.95,470.03 561.80,467.80 564.94,467.18"/><polygon points="580.85,464.58 582.46,467.18 585.60,467.80 583.45,470.03 583.79,473.01 580.85,471.78 577.92,473.01 578.26,470.03 576.10,467.80 579.25,467.18"/><polygon points="530.78,478.90 532.39,481.50 535.54,482.12 533.38,484.35 533.72,487.33 530.78,486.10 527.85,487.33 528.19,484.35 526.03,482.12 529.18,481.50"/><polygon points="545.09,478.90 546.69,481.50 549.84,482.12 547.69,484.35 548.03,487.33 545.09,486.10 542.15,487.33 542.49,484.35 540.34,482.12 543.49,481.50"/><polygon points="559.39,478.90 561.00,481.50 564.15,482.12 561.99,484.35 562.33,487.33 559.39,486.10 556.46,487.33 556.80,484.35 554.64,482.12 557.79,481.50"/><polygon points="573.70,478.90 575.30,481.50 578.45,482.12 576.30,484.35 576.64,487.33 573.70,486.10 570.76,487.33 571.10,484.35 568.95,482.12 572.10,481.50"/><polygon points="588.00,478.90 589.61,481.50 592.76,482.12 590.60,484.35 590.94,487.33 588.00,486.10 585.07,487.33 585.41,484.35 583.25,482.12 586.40,481.50"/><polygon points="537.94,493.22 539.54,495.82 542.69,496.44 540.53,498.67 540.87,501.65 537.94,500.42 535.00,501.65 535.34,498.67 533.19,496.44 536.33,495.82"/><polygon points="552.24,493.22 553.85,495.82 556.99,496.44 554.84,498.67 555.18,501.65 552.24,500.42 549.31,501.65 549.65,498.67 547.49,496.44 550.64,495.82"/><polygon points="566.55,493.22 568.15,495.82 571.30,496.44 569.14,498.67 569.48,501.65 566.55,500.42 563.61,501.65 563.95,498.67 561.80,496.44 564.94,495.82"/><polygon points="580.85,493.22 582.46,495.82 585.60,496.44 583.45,498.67 583.79,501.65 580.85,500.42 577.92,501.65 578.26,498.67 576.10,496.44 579.25,495.82"/></g>
<line x1="587.38" x2="587.38" y1="365.70" y2="383.10" stroke="#cb2633" stroke-width="2"/>
<circle cx="587.38" cy="374.70" r="2.3" fill="#cb2633"/>
<rect x="575.62" y="374.40" width="23.50" height="109.70" fill="#c40f1c" fill-opacity="0.53"/>
<line x1="616.12" x2="616.12" y1="303.60" y2="319.60" stroke="#cb2633" stroke-width="2"/>
<circle cx="616.12" cy="311.90" r="2.3" fill="#cb2633"/>
<rect x="604.38" y="311.60" width="23.50" height="172.50" fill="#c40f1c" fill-opacity="0.70"/>
<clipPath id="c23"><rect x="604.38" y="311.60" width="23.50" height="172.50"/></clipPath>
<g clip-path="url(#c23)" fill="#000" fill-opacity=".3" stroke="#151510" stroke-opacity=".85" stroke-width="1.4"><circle cx="595.16" cy="297.20" r="1.5"/><circle cx="609.46" cy="297.20" r="1.5"/><circle cx="623.77" cy="297.20" r="1.5"/><circle cx="638.07" cy="297.20" r="1.5"/><circle cx="588.00" cy="311.52" r="1.5"/><circle cx="602.31" cy="311.52" r="1.5"/><circle cx="616.61" cy="311.52" r="1.5"/><circle cx="630.92" cy="311.52" r="1.5"/><circle cx="645.22" cy="311.52" r="1.5"/><circle cx="595.16" cy="325.84" r="1.5"/><circle cx="609.46" cy="325.84" r="1.5"/><circle cx="623.77" cy="325.84" r="1.5"/><circle cx="638.07" cy="325.84" r="1.5"/><circle cx="588.00" cy="340.16" r="1.5"/><circle cx="602.31" cy="340.16" r="1.5"/><circle cx="616.61" cy="340.16" r="1.5"/><circle cx="630.92" cy="340.16" r="1.5"/><circle cx="645.22" cy="340.16" r="1.5"/><circle cx="595.16" cy="354.48" r="1.5"/><circle cx="609.46" cy="354.48" r="1.5"/><circle cx="623.77" cy="354.48" r="1.5"/><circle cx="638.07" cy="354.48" r="1.5"/><circle cx="588.00" cy="368.80" r="1.5"/><circle cx="602.31" cy="368.80" r="1.5"/><circle cx="616.61" cy="368.80" r="1.5"/><circle cx="630.92" cy="368.80" r="1.5"/><circle cx="645.22" cy="368.80" r="1.5"/><circle cx="595.16" cy="383.12" r="1.5"/><circle cx="609.46" cy="383.12" r="1.5"/><circle cx="623.77" cy="383.12" r="1.5"/><circle cx="638.07" cy="383.12" r="1.5"/><circle cx="588.00" cy="397.44" r="1.5"/><circle cx="602.31" cy="397.44" r="1.5"/><circle cx="616.61" cy="397.44" r="1.5"/><circle cx="630.92" cy="397.44" r="1.5"/><circle cx="645.22" cy="397.44" r="1.5"/><circle cx="595.16" cy="411.76" r="1.5"/><circle cx="609.46" cy="411.76" r="1.5"/><circle cx="623.77" cy="411.76" r="1.5"/><circle cx="638.07" cy="411.76" r="1.5"/><circle cx="588.00" cy="426.08" r="1.5"/><circle cx="602.31" cy="426.08" r="1.5"/><circle cx="616.61" cy="426.08" r="1.5"/><circle cx="630.92" cy="426.08" r="1.5"/><circle cx="645.22" cy="426.08" r="1.5"/><circle cx="595.16" cy="440.40" r="1.5"/><circle cx="609.46" cy="440.40" r="1.5"/><circle cx="623.77" cy="440.40" r="1.5"/><circle cx="638.07" cy="440.40" r="1.5"/><circle cx="588.00" cy="454.72" r="1.5"/><circle cx="602.31" cy="454.72" r="1.5"/><circle cx="616.61" cy="454.72" r="1.5"/><circle cx="630.92" cy="454.72" r="1.5"/><circle cx="645.22" cy="454.72" r="1.5"/><circle cx="595.16" cy="469.04" r="1.5"/><circle cx="609.46" cy="469.04" r="1.5"/><circle cx="623.77" cy="469.04" r="1.5"/><circle cx="638.07" cy="469.04" r="1.5"/><circle cx="588.00" cy="483.36" r="1.5"/><circle cx="602.31" cy="483.36" r="1.5"/><circle cx="616.61" cy="483.36" r="1.5"/><circle cx="630.92" cy="483.36" r="1.5"/><circle cx="645.22" cy="483.36" r="1.5"/><circle cx="595.16" cy="497.68" r="1.5"/><circle cx="609.46" cy="497.68" r="1.5"/><circle cx="623.77" cy="497.68" r="1.5"/><circle cx="638.07" cy="497.68" r="1.5"/></g>
<line x1="644.88" x2="644.88" y1="376.30" y2="388.70" stroke="#cb2633" stroke-width="2"/>
<circle cx="644.88" cy="382.80" r="2.3" fill="#cb2633"/>
<rect x="633.12" y="382.50" width="23.50" height="101.60" fill="#c40f1c" fill-opacity="0.90"/>
<clipPath id="c24"><rect x="633.12" y="382.50" width="23.50" height="101.60"/></clipPath>
<g clip-path="url(#c24)" fill="none" stroke="#0d0d0d" stroke-linejoin="bevel" stroke-width="1.45"><polygon points="616.61,364.34 618.22,366.94 621.37,367.56 619.21,369.79 619.55,372.77 616.61,371.54 613.68,372.77 614.02,369.79 611.86,367.56 615.01,366.94"/><polygon points="630.92,364.34 632.52,366.94 635.67,367.56 633.52,369.79 633.86,372.77 630.92,371.54 627.98,372.77 628.32,369.79 626.17,367.56 629.32,366.94"/><polygon points="645.22,364.34 646.83,366.94 649.98,367.56 647.82,369.79 648.16,372.77 645.22,371.54 642.29,372.77 642.63,369.79 640.47,367.56 643.62,366.94"/><polygon points="659.53,364.34 661.13,366.94 664.28,367.56 662.13,369.79 662.47,372.77 659.53,371.54 656.59,372.77 656.93,369.79 654.78,367.56 657.93,366.94"/><polygon points="673.83,364.34 675.44,366.94 678.59,367.56 676.43,369.79 676.77,372.77 673.83,371.54 670.90,372.77 671.24,369.79 669.08,367.56 672.23,366.94"/><polygon points="623.77,378.66 625.37,381.26 628.52,381.88 626.36,384.11 626.70,387.09 623.77,385.86 620.83,387.09 621.17,384.11 619.02,381.88 622.16,381.26"/><polygon points="638.07,378.66 639.68,381.26 642.82,381.88 640.67,384.11 641.01,387.09 638.07,385.86 635.14,387.09 635.48,384.11 633.32,381.88 636.47,381.26"/><polygon points="652.38,378.66 653.98,381.26 657.13,381.88 654.97,384.11 655.31,387.09 652.38,385.86 649.44,387.09 649.78,384.11 647.63,381.88 650.77,381.26"/><polygon points="666.68,378.66 668.29,381.26 671.43,381.88 669.28,384.11 669.62,387.09 666.68,385.86 663.75,387.09 664.09,384.11 661.93,381.88 665.08,381.26"/><polygon points="616.61,392.98 618.22,395.58 621.37,396.20 619.21,398.43 619.55,401.41 616.61,400.18 613.68,401.41 614.02,398.43 611.86,396.20 615.01,395.58"/><polygon points="630.92,392.98 632.52,395.58 635.67,396.20 633.52,398.43 633.86,401.41 630.92,400.18 627.98,401.41 628.32,398.43 626.17,396.20 629.32,395.58"/><polygon points="645.22,392.98 646.83,395.58 649.98,396.20 647.82,398.43 648.16,401.41 645.22,400.18 642.29,401.41 642.63,398.43 640.47,396.20 643.62,395.58"/><polygon points="659.53,392.98 661.13,395.58 664.28,396.20 662.13,398.43 662.47,401.41 659.53,400.18 656.59,401.41 656.93,398.43 654.78,396.20 657.93,395.58"/><polygon points="673.83,392.98 675.44,395.58 678.59,396.20 676.43,398.43 676.77,401.41 673.83,400.18 670.90,401.41 671.24,398.43 669.08,396.20 672.23,395.58"/><polygon points="623.77,407.30 625.37,409.90 628.52,410.52 626.36,412.75 626.70,415.73 623.77,414.50 620.83,415.73 621.17,412.75 619.02,410.52 622.16,409.90"/><polygon points="638.07,407.30 639.68,409.90 642.82,410.52 640.67,412.75 641.01,415.73 638.07,414.50 635.14,415.73 635.48,412.75 633.32,410.52 636.47,409.90"/><polygon points="652.38,407.30 653.98,409.90 657.13,410.52 654.97,412.75 655.31,415.73 652.38,414.50 649.44,415.73 649.78,412.75 647.63,410.52 650.77,409.90"/><polygon points="666.68,407.30 668.29,409.90 671.43,410.52 669.28,412.75 669.62,415.73 666.68,414.50 663.75,415.73 664.09,412.75 661.93,410.52 665.08,409.90"/><polygon points="616.61,421.62 618.22,424.22 621.37,424.84 619.21,427.07 619.55,430.05 616.61,428.82 613.68,430.05 614.02,427.07 611.86,424.84 615.01,424.22"/><polygon points="630.92,421.62 632.52,424.22 635.67,424.84 633.52,427.07 633.86,430.05 630.92,428.82 627.98,430.05 628.32,427.07 626.17,424.84 629.32,424.22"/><polygon points="645.22,421.62 646.83,424.22 649.98,424.84 647.82,427.07 648.16,430.05 645.22,428.82 642.29,430.05 642.63,427.07 640.47,424.84 643.62,424.22"/><polygon points="659.53,421.62 661.13,424.22 664.28,424.84 662.13,427.07 662.47,430.05 659.53,428.82 656.59,430.05 656.93,427.07 654.78,424.84 657.93,424.22"/><polygon points="673.83,421.62 675.44,424.22 678.59,424.84 676.43,427.07 676.77,430.05 673.83,428.82 670.90,430.05 671.24,427.07 669.08,424.84 672.23,424.22"/><polygon points="623.77,435.94 625.37,438.54 628.52,439.16 626.36,441.39 626.70,444.37 623.77,443.14 620.83,444.37 621.17,441.39 619.02,439.16 622.16,438.54"/><polygon points="638.07,435.94 639.68,438.54 642.82,439.16 640.67,441.39 641.01,444.37 638.07,443.14 635.14,444.37 635.48,441.39 633.32,439.16 636.47,438.54"/><polygon points="652.38,435.94 653.98,438.54 657.13,439.16 654.97,441.39 655.31,444.37 652.38,443.14 649.44,444.37 649.78,441.39 647.63,439.16 650.77,438.54"/><polygon points="666.68,435.94 668.29,438.54 671.43,439.16 669.28,441.39 669.62,444.37 666.68,443.14 663.75,444.37 664.09,441.39 661.93,439.16 665.08,438.54"/><polygon points="616.61,450.26 618.22,452.86 621.37,453.48 619.21,455.71 619.55,458.69 616.61,457.46 613.68,458.69 614.02,455.71 611.86,453.48 615.01,452.86"/><polygon points="630.92,450.26 632.52,452.86 635.67,453.48 633.52,455.71 633.86,458.69 630.92,457.46 627.98,458.69 628.32,455.71 626.17,453.48 629.32,452.86"/><polygon points="645.22,450.26 646.83,452.86 649.98,453.48 647.82,455.71 648.16,458.69 645.22,457.46 642.29,458.69 642.63,455.71 640.47,453.48 643.62,452.86"/><polygon points="659.53,450.26 661.13,452.86 664.28,453.48 662.13,455.71 662.47,458.69 659.53,457.46 656.59,458.69 656.93,455.71 654.78,453.48 657.93,452.86"/><polygon points="673.83,450.26 675.44,452.86 678.59,453.48 676.43,455.71 676.77,458.69 673.83,457.46 670.90,458.69 671.24,455.71 669.08,453.48 672.23,452.86"/><polygon points="623.77,464.58 625.37,467.18 628.52,467.80 626.36,470.03 626.70,473.01 623.77,471.78 620.83,473.01 621.17,470.03 619.02,467.80 622.16,467.18"/><polygon points="638.07,464.58 639.68,467.18 642.82,467.80 640.67,470.03 641.01,473.01 638.07,471.78 635.14,473.01 635.48,470.03 633.32,467.80 636.47,467.18"/><polygon points="652.38,464.58 653.98,467.18 657.13,467.80 654.97,470.03 655.31,473.01 652.38,471.78 649.44,473.01 649.78,470.03 647.63,467.80 650.77,467.18"/><polygon points="666.68,464.58 668.29,467.18 671.43,467.80 669.28,470.03 669.62,473.01 666.68,471.78 663.75,473.01 664.09,470.03 661.93,467.80 665.08,467.18"/><polygon points="616.61,478.90 618.22,481.50 621.37,482.12 619.21,484.35 619.55,487.33 616.61,486.10 613.68,487.33 614.02,484.35 611.86,482.12 615.01,481.50"/><polygon points="630.92,478.90 632.52,481.50 635.67,482.12 633.52,484.35 633.86,487.33 630.92,486.10 627.98,487.33 628.32,484.35 626.17,482.12 629.32,481.50"/><polygon points="645.22,478.90 646.83,481.50 649.98,482.12 647.82,484.35 648.16,487.33 645.22,486.10 642.29,487.33 642.63,484.35 640.47,482.12 643.62,481.50"/><polygon points="659.53,478.90 661.13,481.50 664.28,482.12 662.13,484.35 662.47,487.33 659.53,486.10 656.59,487.33 656.93,484.35 654.78,482.12 657.93,481.50"/><polygon points="673.83,478.90 675.44,481.50 678.59,482.12 676.43,484.35 676.77,487.33 673.83,486.10 670.90,487.33 671.24,484.35 669.08,482.12 672.23,481.50"/><polygon points="623.77,493.22 625.37,495.82 628.52,496.44 626.36,498.67 626.70,501.65 623.77,500.42 620.83,501.65 621.17,498.67 619.02,496.44 622.16,495.82"/><polygon points="638.07,493.22 639.68,495.82 642.82,496.44 640.67,498.67 641.01,501.65 638.07,500.42 635.14,501.65 635.48,498.67 633.32,496.44 636.47,495.82"/><polygon points="652.38,493.22 653.98,495.82 657.13,496.44 654.97,498.67 655.31,501.65 652.38,500.42 649.44,501.65 649.78,498.67 647.63,496.44 650.77,495.82"/><polygon points="666.68,493.22 668.29,495.82 671.43,496.44 669.28,498.67 669.62,501.65 666.68,500.42 663.75,501.65 664.09,498.67 661.93,496.44 665.08,495.82"/></g>
<rect x="78.90" y="285.80" width="604.80" height="198.30" fill="none" stroke="#4d4d4d" stroke-width="1.7"/>
<g stroke="#4d4d4d" stroke-width="1.1"><line x1="74.3" x2="78.9" y1="484.10" y2="484.10"/><line x1="74.3" x2="78.9" y1="455.43" y2="455.43"/><line x1="74.3" x2="78.9" y1="426.76" y2="426.76"/><line x1="74.3" x2="78.9" y1="398.09" y2="398.09"/><line x1="74.3" x2="78.9" y1="369.42" y2="369.42"/><line x1="74.3" x2="78.9" y1="340.75" y2="340.75"/><line x1="74.3" x2="78.9" y1="312.08" y2="312.08"/><line x1="189.80" x2="189.80" y1="484.10" y2="488.70"/><line x1="381.40" x2="381.40" y1="484.10" y2="488.70"/><line x1="573.00" x2="573.00" y1="484.10" y2="488.70"/></g>
<g font-size="26.3" fill="#000" stroke="#000" stroke-width="0.35"><text x="65" y="493.10" text-anchor="end">1.7</text><text x="65" y="464.43" text-anchor="end">1.8</text><text x="65" y="435.76" text-anchor="end">1.9</text><text x="65" y="407.09" text-anchor="end">2.0</text><text x="65" y="378.42" text-anchor="end">2.1</text><text x="65" y="349.75" text-anchor="end">2.2</text><text x="65" y="321.08" text-anchor="end">2.3</text><text x="189.30" y="512.70" text-anchor="middle">0.5</text><text x="380.90" y="512.70" text-anchor="middle">2.5</text><text x="572.50" y="512.70" text-anchor="middle">4.5</text></g>
<text x="381.0" y="539.00" text-anchor="middle" font-size="26.3" font-weight="bold" font-style="italic" stroke="#000" stroke-width="0.4">Sciplex 5-drugs aggregated</text>
<text transform="translate(18.6,385.10) rotate(-90)" text-anchor="middle" font-size="26.3" font-weight="bold" font-style="italic" stroke="#000" stroke-width="0.4">Sink Div</text>
</svg>
</body></html>
